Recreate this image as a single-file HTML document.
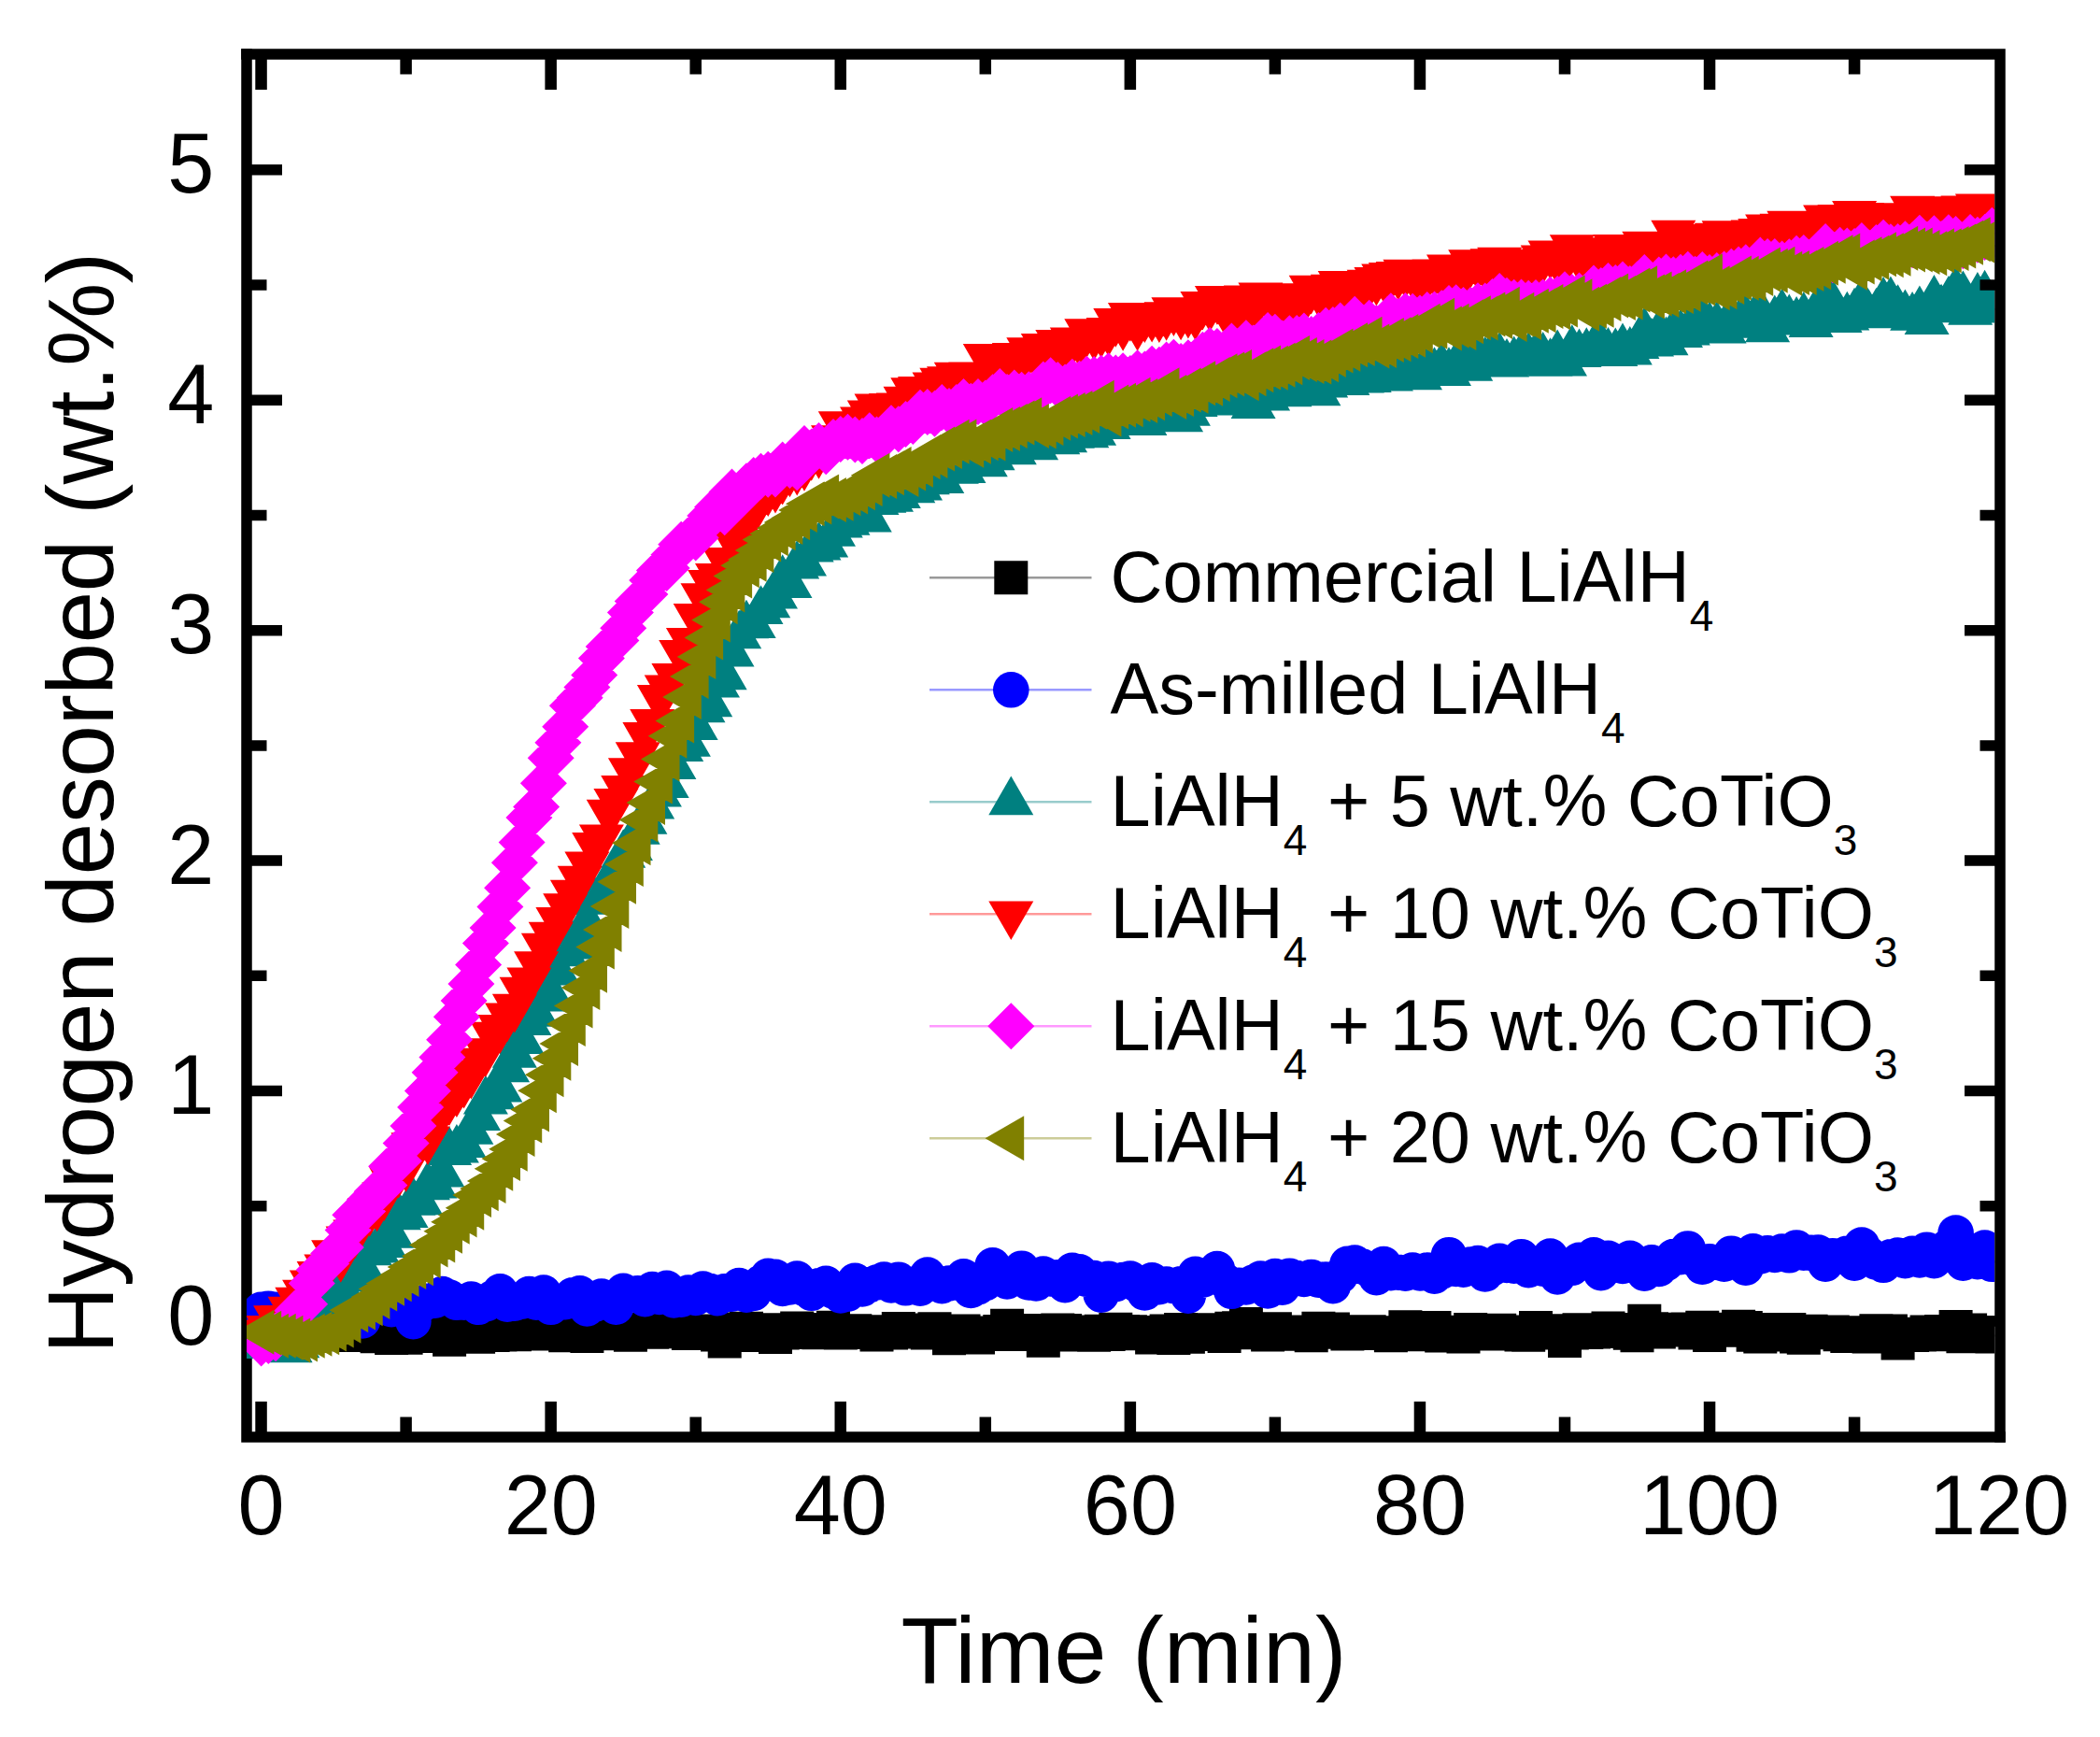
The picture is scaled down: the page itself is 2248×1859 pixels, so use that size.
<!DOCTYPE html>
<html lang="en">
<head>
<meta charset="utf-8">
<title>Hydrogen desorbed vs time</title>
<style>
html,body{margin:0;padding:0;background:#fff;}
body{width:2248px;height:1859px;overflow:hidden;}
svg{display:block;}
text{font-family:"Liberation Sans",Arial,Helvetica,sans-serif;fill:#000;}
.s{font-size:46px;}
</style>
</head>
<body>
<svg width="2248" height="1859" viewBox="0 0 2248 1859">
<rect width="2248" height="1859" fill="#fff"/>
<defs><clipPath id="c"><rect x="264.0" y="58.0" width="1871.2" height="1480.0"/></clipPath></defs>
<path d="M264.0 52.2 V1538.0 H2146.8 M264.0 1414.00 H302.0 M264.0 1290.78 H285.5 M264.0 1167.55 H302.0 M264.0 1044.33 H285.5 M264.0 921.10 H302.0 M264.0 797.88 H285.5 M264.0 674.65 H302.0 M264.0 551.43 H285.5 M264.0 428.20 H302.0 M264.0 304.98 H285.5 M264.0 181.75 H302.0" fill="none" stroke="#000" stroke-width="11.5" stroke-linejoin="miter"/>
<path d="M279.55 1538.0 V1500.0 M434.60 1538.0 V1516.5 M589.65 1538.0 V1500.0 M744.70 1538.0 V1516.5 M899.75 1538.0 V1500.0 M1054.80 1538.0 V1516.5 M1209.85 1538.0 V1500.0 M1364.90 1538.0 V1516.5 M1519.95 1538.0 V1500.0 M1675.00 1538.0 V1516.5 M1830.05 1538.0 V1500.0 M1985.10 1538.0 V1516.5" fill="none" stroke="#000" stroke-width="12.5"/>
<g clip-path="url(#c)">
<path d="M279.6 1426.3 L287.3 1426.1 L295.1 1426.6 L302.8 1427.6 L310.6 1427.2 L318.3 1428.8 L326.1 1426.1 L333.8 1422.4 L341.6 1427.8 L349.3 1428.2 L357.1 1424.9 L364.8 1425.3 L372.6 1426.0 L380.3 1429.1 L388.1 1426.4 L395.8 1424.3 L403.6 1430.3 L411.3 1427.7 L419.1 1431.9 L426.8 1430.1 L434.6 1431.8 L442.4 1427.0 L450.1 1430.1 L457.9 1425.5 L465.6 1425.8 L473.4 1426.8 L481.1 1433.7 L488.9 1427.8 L496.6 1426.3 L504.4 1425.8 L512.1 1430.7 L519.9 1427.5 L527.6 1429.0 L535.4 1428.4 L543.1 1422.8 L550.9 1428.3 L558.6 1426.0 L566.4 1423.2 L574.1 1427.5 L581.9 1426.1 L589.7 1425.4 L597.4 1425.5 L605.2 1429.2 L612.9 1425.3 L620.7 1421.5 L628.4 1430.1 L636.2 1422.9 L643.9 1425.0 L651.7 1427.3 L659.4 1419.4 L667.2 1423.0 L674.9 1428.8 L682.7 1425.0 L690.4 1423.5 L698.2 1425.7 L705.9 1423.1 L713.7 1425.3 L721.4 1423.1 L729.2 1420.8 L736.9 1427.1 L744.7 1424.5 L752.5 1426.5 L760.2 1424.7 L768.0 1428.6 L775.7 1435.4 L783.5 1425.7 L791.2 1422.4 L799.0 1421.7 L806.7 1429.0 L814.5 1427.5 L822.2 1423.2 L830.0 1431.0 L837.7 1426.5 L845.5 1425.4 L853.2 1421.4 L861.0 1423.1 L868.7 1426.1 L876.5 1426.3 L884.2 1425.9 L892.0 1420.7 L899.8 1426.5 L907.5 1426.1 L915.3 1424.2 L923.0 1425.6 L930.8 1425.8 L938.5 1428.6 L946.3 1425.3 L954.0 1426.6 L961.8 1421.9 L969.5 1423.4 L977.3 1425.4 L985.0 1423.4 L992.8 1426.4 L1000.5 1422.3 L1008.3 1425.4 L1016.0 1432.3 L1023.8 1429.2 L1031.5 1424.4 L1039.3 1430.4 L1047.0 1431.5 L1054.8 1426.4 L1062.6 1428.1 L1070.3 1425.0 L1078.1 1418.8 L1085.8 1428.0 L1093.6 1427.4 L1101.3 1424.9 L1109.1 1424.1 L1116.8 1434.7 L1124.6 1426.1 L1132.3 1423.5 L1140.1 1424.0 L1147.8 1428.6 L1155.6 1425.8 L1163.3 1425.5 L1171.1 1428.7 L1178.8 1424.8 L1186.6 1428.1 L1194.3 1422.7 L1202.1 1425.0 L1209.9 1425.3 L1217.6 1427.3 L1225.4 1425.9 L1233.1 1431.5 L1240.9 1428.9 L1248.6 1424.5 L1256.4 1431.9 L1264.1 1423.1 L1271.9 1430.7 L1279.6 1423.3 L1287.4 1428.0 L1295.1 1423.2 L1302.9 1425.1 L1310.6 1430.1 L1318.4 1421.8 L1326.1 1421.2 L1333.9 1417.1 L1341.6 1426.3 L1349.4 1425.9 L1357.1 1428.4 L1364.9 1422.2 L1372.7 1427.0 L1380.4 1425.6 L1388.2 1427.8 L1395.9 1427.3 L1403.7 1429.2 L1411.4 1421.7 L1419.2 1425.8 L1426.9 1422.5 L1434.7 1425.3 L1442.4 1427.4 L1450.2 1426.3 L1457.9 1427.0 L1465.7 1425.3 L1473.4 1426.4 L1481.2 1426.2 L1488.9 1429.3 L1496.7 1427.6 L1504.4 1420.3 L1512.2 1427.2 L1520.0 1428.3 L1527.7 1424.2 L1535.5 1421.0 L1543.2 1429.5 L1551.0 1425.8 L1558.7 1427.0 L1566.5 1430.4 L1574.2 1423.0 L1582.0 1425.2 L1589.7 1424.9 L1597.5 1427.4 L1605.2 1423.8 L1613.0 1426.7 L1620.7 1425.5 L1628.5 1428.4 L1636.2 1428.7 L1644.0 1421.1 L1651.7 1426.6 L1659.5 1424.2 L1667.2 1425.2 L1675.0 1435.0 L1682.8 1426.6 L1690.5 1423.2 L1698.3 1426.0 L1706.0 1425.5 L1713.8 1425.0 L1721.5 1421.6 L1729.3 1423.1 L1737.0 1424.0 L1744.8 1426.8 L1752.5 1429.2 L1760.3 1413.7 L1768.0 1422.3 L1775.8 1425.6 L1783.5 1423.6 L1791.3 1422.9 L1799.0 1422.7 L1806.8 1422.5 L1814.5 1426.6 L1822.3 1420.8 L1830.0 1428.9 L1837.8 1422.7 L1845.6 1423.8 L1853.3 1422.7 L1861.1 1419.8 L1868.8 1421.0 L1876.6 1428.7 L1884.3 1430.4 L1892.1 1423.0 L1899.8 1428.4 L1907.6 1425.5 L1915.3 1423.0 L1923.1 1430.4 L1930.8 1431.8 L1938.6 1424.8 L1946.3 1425.4 L1954.1 1426.3 L1961.8 1425.5 L1969.6 1428.2 L1977.3 1430.1 L1985.1 1426.2 L1992.9 1428.6 L2000.6 1430.6 L2008.4 1424.3 L2016.1 1426.0 L2023.9 1424.6 L2031.6 1437.4 L2039.4 1427.8 L2047.1 1428.9 L2054.9 1428.6 L2062.6 1425.4 L2070.4 1428.3 L2078.1 1425.0 L2085.9 1425.1 L2093.6 1420.1 L2101.4 1430.3 L2109.1 1423.6 L2116.9 1426.5 L2124.6 1426.3 L2132.4 1430.6 L2140.2 1427.7" fill="none" stroke="#000000" stroke-width="2"/>
<path d="M261.6 1408.3 h36 v36 h-36 zM269.3 1408.1 h36 v36 h-36 zM277.1 1408.6 h36 v36 h-36 zM284.8 1409.6 h36 v36 h-36 zM292.6 1409.2 h36 v36 h-36 zM300.3 1410.8 h36 v36 h-36 zM308.1 1408.1 h36 v36 h-36 zM315.8 1404.4 h36 v36 h-36 zM323.6 1409.8 h36 v36 h-36 zM331.3 1410.2 h36 v36 h-36 zM339.1 1406.9 h36 v36 h-36 zM346.8 1407.3 h36 v36 h-36 zM354.6 1408.0 h36 v36 h-36 zM362.3 1411.1 h36 v36 h-36 zM370.1 1408.4 h36 v36 h-36 zM377.8 1406.3 h36 v36 h-36 zM385.6 1412.3 h36 v36 h-36 zM393.3 1409.7 h36 v36 h-36 zM401.1 1413.9 h36 v36 h-36 zM408.8 1412.1 h36 v36 h-36 zM416.6 1413.8 h36 v36 h-36 zM424.4 1409.0 h36 v36 h-36 zM432.1 1412.1 h36 v36 h-36 zM439.9 1407.5 h36 v36 h-36 zM447.6 1407.8 h36 v36 h-36 zM455.4 1408.8 h36 v36 h-36 zM463.1 1415.7 h36 v36 h-36 zM470.9 1409.8 h36 v36 h-36 zM478.6 1408.3 h36 v36 h-36 zM486.4 1407.8 h36 v36 h-36 zM494.1 1412.7 h36 v36 h-36 zM501.9 1409.5 h36 v36 h-36 zM509.6 1411.0 h36 v36 h-36 zM517.4 1410.4 h36 v36 h-36 zM525.1 1404.8 h36 v36 h-36 zM532.9 1410.3 h36 v36 h-36 zM540.6 1408.0 h36 v36 h-36 zM548.4 1405.2 h36 v36 h-36 zM556.1 1409.5 h36 v36 h-36 zM563.9 1408.1 h36 v36 h-36 zM571.7 1407.4 h36 v36 h-36 zM579.4 1407.5 h36 v36 h-36 zM587.2 1411.2 h36 v36 h-36 zM594.9 1407.3 h36 v36 h-36 zM602.7 1403.5 h36 v36 h-36 zM610.4 1412.1 h36 v36 h-36 zM618.2 1404.9 h36 v36 h-36 zM625.9 1407.0 h36 v36 h-36 zM633.7 1409.3 h36 v36 h-36 zM641.4 1401.4 h36 v36 h-36 zM649.2 1405.0 h36 v36 h-36 zM656.9 1410.8 h36 v36 h-36 zM664.7 1407.0 h36 v36 h-36 zM672.4 1405.5 h36 v36 h-36 zM680.2 1407.7 h36 v36 h-36 zM687.9 1405.1 h36 v36 h-36 zM695.7 1407.3 h36 v36 h-36 zM703.4 1405.1 h36 v36 h-36 zM711.2 1402.8 h36 v36 h-36 zM718.9 1409.1 h36 v36 h-36 zM726.7 1406.5 h36 v36 h-36 zM734.5 1408.5 h36 v36 h-36 zM742.2 1406.7 h36 v36 h-36 zM750.0 1410.6 h36 v36 h-36 zM757.7 1417.4 h36 v36 h-36 zM765.5 1407.7 h36 v36 h-36 zM773.2 1404.4 h36 v36 h-36 zM781.0 1403.7 h36 v36 h-36 zM788.7 1411.0 h36 v36 h-36 zM796.5 1409.5 h36 v36 h-36 zM804.2 1405.2 h36 v36 h-36 zM812.0 1413.0 h36 v36 h-36 zM819.7 1408.5 h36 v36 h-36 zM827.5 1407.4 h36 v36 h-36 zM835.2 1403.4 h36 v36 h-36 zM843.0 1405.1 h36 v36 h-36 zM850.7 1408.1 h36 v36 h-36 zM858.5 1408.3 h36 v36 h-36 zM866.2 1407.9 h36 v36 h-36 zM874.0 1402.7 h36 v36 h-36 zM881.8 1408.5 h36 v36 h-36 zM889.5 1408.1 h36 v36 h-36 zM897.3 1406.2 h36 v36 h-36 zM905.0 1407.6 h36 v36 h-36 zM912.8 1407.8 h36 v36 h-36 zM920.5 1410.6 h36 v36 h-36 zM928.3 1407.3 h36 v36 h-36 zM936.0 1408.6 h36 v36 h-36 zM943.8 1403.9 h36 v36 h-36 zM951.5 1405.4 h36 v36 h-36 zM959.3 1407.4 h36 v36 h-36 zM967.0 1405.4 h36 v36 h-36 zM974.8 1408.4 h36 v36 h-36 zM982.5 1404.3 h36 v36 h-36 zM990.3 1407.4 h36 v36 h-36 zM998.0 1414.3 h36 v36 h-36 zM1005.8 1411.2 h36 v36 h-36 zM1013.5 1406.4 h36 v36 h-36 zM1021.3 1412.4 h36 v36 h-36 zM1029.0 1413.5 h36 v36 h-36 zM1036.8 1408.4 h36 v36 h-36 zM1044.6 1410.1 h36 v36 h-36 zM1052.3 1407.0 h36 v36 h-36 zM1060.1 1400.8 h36 v36 h-36 zM1067.8 1410.0 h36 v36 h-36 zM1075.6 1409.4 h36 v36 h-36 zM1083.3 1406.9 h36 v36 h-36 zM1091.1 1406.1 h36 v36 h-36 zM1098.8 1416.7 h36 v36 h-36 zM1106.6 1408.1 h36 v36 h-36 zM1114.3 1405.5 h36 v36 h-36 zM1122.1 1406.0 h36 v36 h-36 zM1129.8 1410.6 h36 v36 h-36 zM1137.6 1407.8 h36 v36 h-36 zM1145.3 1407.5 h36 v36 h-36 zM1153.1 1410.7 h36 v36 h-36 zM1160.8 1406.8 h36 v36 h-36 zM1168.6 1410.1 h36 v36 h-36 zM1176.3 1404.7 h36 v36 h-36 zM1184.1 1407.0 h36 v36 h-36 zM1191.9 1407.3 h36 v36 h-36 zM1199.6 1409.3 h36 v36 h-36 zM1207.4 1407.9 h36 v36 h-36 zM1215.1 1413.5 h36 v36 h-36 zM1222.9 1410.9 h36 v36 h-36 zM1230.6 1406.5 h36 v36 h-36 zM1238.4 1413.9 h36 v36 h-36 zM1246.1 1405.1 h36 v36 h-36 zM1253.9 1412.7 h36 v36 h-36 zM1261.6 1405.3 h36 v36 h-36 zM1269.4 1410.0 h36 v36 h-36 zM1277.1 1405.2 h36 v36 h-36 zM1284.9 1407.1 h36 v36 h-36 zM1292.6 1412.1 h36 v36 h-36 zM1300.4 1403.8 h36 v36 h-36 zM1308.1 1403.2 h36 v36 h-36 zM1315.9 1399.1 h36 v36 h-36 zM1323.6 1408.3 h36 v36 h-36 zM1331.4 1407.9 h36 v36 h-36 zM1339.1 1410.4 h36 v36 h-36 zM1346.9 1404.2 h36 v36 h-36 zM1354.7 1409.0 h36 v36 h-36 zM1362.4 1407.6 h36 v36 h-36 zM1370.2 1409.8 h36 v36 h-36 zM1377.9 1409.3 h36 v36 h-36 zM1385.7 1411.2 h36 v36 h-36 zM1393.4 1403.7 h36 v36 h-36 zM1401.2 1407.8 h36 v36 h-36 zM1408.9 1404.5 h36 v36 h-36 zM1416.7 1407.3 h36 v36 h-36 zM1424.4 1409.4 h36 v36 h-36 zM1432.2 1408.3 h36 v36 h-36 zM1439.9 1409.0 h36 v36 h-36 zM1447.7 1407.3 h36 v36 h-36 zM1455.4 1408.4 h36 v36 h-36 zM1463.2 1408.2 h36 v36 h-36 zM1470.9 1411.3 h36 v36 h-36 zM1478.7 1409.6 h36 v36 h-36 zM1486.4 1402.3 h36 v36 h-36 zM1494.2 1409.2 h36 v36 h-36 zM1502.0 1410.3 h36 v36 h-36 zM1509.7 1406.2 h36 v36 h-36 zM1517.5 1403.0 h36 v36 h-36 zM1525.2 1411.5 h36 v36 h-36 zM1533.0 1407.8 h36 v36 h-36 zM1540.7 1409.0 h36 v36 h-36 zM1548.5 1412.4 h36 v36 h-36 zM1556.2 1405.0 h36 v36 h-36 zM1564.0 1407.2 h36 v36 h-36 zM1571.7 1406.9 h36 v36 h-36 zM1579.5 1409.4 h36 v36 h-36 zM1587.2 1405.8 h36 v36 h-36 zM1595.0 1408.7 h36 v36 h-36 zM1602.7 1407.5 h36 v36 h-36 zM1610.5 1410.4 h36 v36 h-36 zM1618.2 1410.7 h36 v36 h-36 zM1626.0 1403.1 h36 v36 h-36 zM1633.7 1408.6 h36 v36 h-36 zM1641.5 1406.2 h36 v36 h-36 zM1649.2 1407.2 h36 v36 h-36 zM1657.0 1417.0 h36 v36 h-36 zM1664.8 1408.6 h36 v36 h-36 zM1672.5 1405.2 h36 v36 h-36 zM1680.3 1408.0 h36 v36 h-36 zM1688.0 1407.5 h36 v36 h-36 zM1695.8 1407.0 h36 v36 h-36 zM1703.5 1403.6 h36 v36 h-36 zM1711.3 1405.1 h36 v36 h-36 zM1719.0 1406.0 h36 v36 h-36 zM1726.8 1408.8 h36 v36 h-36 zM1734.5 1411.2 h36 v36 h-36 zM1742.3 1395.7 h36 v36 h-36 zM1750.0 1404.3 h36 v36 h-36 zM1757.8 1407.6 h36 v36 h-36 zM1765.5 1405.6 h36 v36 h-36 zM1773.3 1404.9 h36 v36 h-36 zM1781.0 1404.7 h36 v36 h-36 zM1788.8 1404.5 h36 v36 h-36 zM1796.5 1408.6 h36 v36 h-36 zM1804.3 1402.8 h36 v36 h-36 zM1812.0 1410.9 h36 v36 h-36 zM1819.8 1404.7 h36 v36 h-36 zM1827.6 1405.8 h36 v36 h-36 zM1835.3 1404.7 h36 v36 h-36 zM1843.1 1401.8 h36 v36 h-36 zM1850.8 1403.0 h36 v36 h-36 zM1858.6 1410.7 h36 v36 h-36 zM1866.3 1412.4 h36 v36 h-36 zM1874.1 1405.0 h36 v36 h-36 zM1881.8 1410.4 h36 v36 h-36 zM1889.6 1407.5 h36 v36 h-36 zM1897.3 1405.0 h36 v36 h-36 zM1905.1 1412.4 h36 v36 h-36 zM1912.8 1413.8 h36 v36 h-36 zM1920.6 1406.8 h36 v36 h-36 zM1928.3 1407.4 h36 v36 h-36 zM1936.1 1408.3 h36 v36 h-36 zM1943.8 1407.5 h36 v36 h-36 zM1951.6 1410.2 h36 v36 h-36 zM1959.3 1412.1 h36 v36 h-36 zM1967.1 1408.2 h36 v36 h-36 zM1974.9 1410.6 h36 v36 h-36 zM1982.6 1412.6 h36 v36 h-36 zM1990.4 1406.3 h36 v36 h-36 zM1998.1 1408.0 h36 v36 h-36 zM2005.9 1406.6 h36 v36 h-36 zM2013.6 1419.4 h36 v36 h-36 zM2021.4 1409.8 h36 v36 h-36 zM2029.1 1410.9 h36 v36 h-36 zM2036.9 1410.6 h36 v36 h-36 zM2044.6 1407.4 h36 v36 h-36 zM2052.4 1410.3 h36 v36 h-36 zM2060.1 1407.0 h36 v36 h-36 zM2067.9 1407.1 h36 v36 h-36 zM2075.6 1402.1 h36 v36 h-36 zM2083.4 1412.3 h36 v36 h-36 zM2091.1 1405.6 h36 v36 h-36 zM2098.9 1408.5 h36 v36 h-36 zM2106.6 1408.3 h36 v36 h-36 zM2114.4 1412.6 h36 v36 h-36 zM2122.2 1409.7 h36 v36 h-36 z" fill="#000000"/>
<path d="M279.6 1401.8 L287.3 1400.7 L295.1 1401.7 L302.8 1403.3 L310.6 1400.5 L318.3 1407.2 L326.1 1412.1 L333.8 1397.6 L341.6 1401.4 L349.3 1398.8 L357.1 1411.3 L364.8 1402.5 L372.6 1403.6 L380.3 1404.9 L388.1 1413.4 L395.8 1400.6 L403.6 1392.3 L411.3 1395.2 L419.1 1401.2 L426.8 1397.1 L434.6 1391.9 L442.4 1414.2 L450.1 1397.2 L457.9 1392.8 L465.6 1391.7 L473.4 1385.1 L481.1 1388.6 L488.9 1393.8 L496.6 1393.7 L504.4 1390.5 L512.1 1398.8 L519.9 1395.5 L527.6 1389.2 L535.4 1382.3 L543.1 1395.6 L550.9 1394.6 L558.6 1392.7 L566.4 1385.1 L574.1 1393.6 L581.9 1383.6 L589.7 1398.8 L597.4 1393.5 L605.2 1393.1 L612.9 1386.4 L620.7 1384.3 L628.4 1400.3 L636.2 1396.0 L643.9 1387.6 L651.7 1393.5 L659.4 1398.6 L667.2 1381.8 L674.9 1384.8 L682.7 1384.4 L690.4 1390.2 L698.2 1380.1 L705.9 1387.8 L713.7 1378.9 L721.4 1391.4 L729.2 1390.6 L736.9 1383.5 L744.7 1388.9 L752.5 1379.7 L760.2 1382.0 L768.0 1389.1 L775.7 1382.3 L783.5 1384.6 L791.2 1376.1 L799.0 1385.6 L806.7 1383.9 L814.5 1372.9 L822.2 1365.9 L830.0 1366.9 L837.7 1378.9 L845.5 1377.5 L853.2 1368.6 L861.0 1378.8 L868.7 1383.8 L876.5 1376.3 L884.2 1373.8 L892.0 1381.6 L899.8 1386.4 L907.5 1384.6 L915.3 1370.8 L923.0 1379.5 L930.8 1375.2 L938.5 1372.5 L946.3 1369.6 L954.0 1375.4 L961.8 1369.7 L969.5 1378.3 L977.3 1374.6 L985.0 1378.6 L992.8 1364.6 L1000.5 1371.8 L1008.3 1376.1 L1016.0 1373.5 L1023.8 1372.5 L1031.5 1366.4 L1039.3 1381.0 L1047.0 1377.4 L1054.8 1373.1 L1062.6 1354.4 L1070.3 1364.5 L1078.1 1371.4 L1085.8 1366.2 L1093.6 1357.7 L1101.3 1372.5 L1109.1 1373.5 L1116.8 1363.6 L1124.6 1368.4 L1132.3 1367.4 L1140.1 1375.2 L1147.8 1359.8 L1155.6 1361.3 L1163.3 1368.8 L1171.1 1368.2 L1178.8 1385.7 L1186.6 1368.7 L1194.3 1374.1 L1202.1 1370.1 L1209.9 1368.5 L1217.6 1375.0 L1225.4 1383.5 L1233.1 1370.3 L1240.9 1377.2 L1248.6 1374.5 L1256.4 1376.1 L1264.1 1374.2 L1271.9 1386.6 L1279.6 1363.8 L1287.4 1369.7 L1295.1 1364.0 L1302.9 1358.2 L1310.6 1370.4 L1318.4 1381.8 L1326.1 1375.7 L1333.9 1377.4 L1341.6 1372.6 L1349.4 1368.5 L1357.1 1381.5 L1364.9 1366.1 L1372.7 1377.6 L1380.4 1365.7 L1388.2 1368.0 L1395.9 1368.9 L1403.7 1367.0 L1411.4 1369.6 L1419.2 1369.7 L1426.9 1376.2 L1434.7 1365.3 L1442.4 1352.9 L1450.2 1351.6 L1457.9 1355.4 L1465.7 1358.9 L1473.4 1367.2 L1481.2 1353.1 L1488.9 1362.2 L1496.7 1361.7 L1504.4 1362.6 L1512.2 1359.5 L1520.0 1362.4 L1527.7 1359.6 L1535.5 1365.6 L1543.2 1360.6 L1551.0 1343.2 L1558.7 1357.9 L1566.5 1358.7 L1574.2 1353.5 L1582.0 1352.0 L1589.7 1363.5 L1597.5 1357.4 L1605.2 1349.9 L1613.0 1353.9 L1620.7 1354.6 L1628.5 1345.2 L1636.2 1359.2 L1644.0 1354.1 L1651.7 1357.7 L1659.5 1344.6 L1667.2 1366.4 L1675.0 1357.9 L1682.8 1356.8 L1690.5 1348.8 L1698.3 1348.9 L1706.0 1343.4 L1713.8 1362.1 L1721.5 1346.8 L1729.3 1353.1 L1737.0 1355.0 L1744.8 1346.8 L1752.5 1355.7 L1760.3 1362.7 L1768.0 1351.3 L1775.8 1358.0 L1783.5 1352.1 L1791.3 1345.1 L1799.0 1345.1 L1806.8 1336.5 L1814.5 1347.5 L1822.3 1355.7 L1830.0 1350.3 L1837.8 1351.0 L1845.6 1352.6 L1853.3 1341.7 L1861.1 1348.4 L1868.8 1356.7 L1876.6 1339.4 L1884.3 1344.5 L1892.1 1341.4 L1899.8 1343.0 L1907.6 1339.5 L1915.3 1343.3 L1923.1 1335.5 L1930.8 1340.7 L1938.6 1340.8 L1946.3 1340.6 L1954.1 1352.6 L1961.8 1344.2 L1969.6 1344.8 L1977.3 1341.7 L1985.1 1351.7 L1992.9 1332.5 L2000.6 1342.3 L2008.4 1350.6 L2016.1 1353.8 L2023.9 1345.3 L2031.6 1343.6 L2039.4 1349.2 L2047.1 1341.9 L2054.9 1348.4 L2062.6 1337.7 L2070.4 1349.1 L2078.1 1343.0 L2085.9 1333.8 L2093.6 1319.5 L2101.4 1351.6 L2109.1 1346.7 L2116.9 1350.1 L2124.6 1335.5 L2132.4 1352.8 L2140.2 1346.9" fill="none" stroke="#0000ff" stroke-width="2"/>
<path d="M260.2 1401.8 a19.3 19.3 0 1 0 38.6 0 a19.3 19.3 0 1 0 -38.6 0zM268.0 1400.7 a19.3 19.3 0 1 0 38.6 0 a19.3 19.3 0 1 0 -38.6 0zM275.8 1401.7 a19.3 19.3 0 1 0 38.6 0 a19.3 19.3 0 1 0 -38.6 0zM283.5 1403.3 a19.3 19.3 0 1 0 38.6 0 a19.3 19.3 0 1 0 -38.6 0zM291.3 1400.5 a19.3 19.3 0 1 0 38.6 0 a19.3 19.3 0 1 0 -38.6 0zM299.0 1407.2 a19.3 19.3 0 1 0 38.6 0 a19.3 19.3 0 1 0 -38.6 0zM306.8 1412.1 a19.3 19.3 0 1 0 38.6 0 a19.3 19.3 0 1 0 -38.6 0zM314.5 1397.6 a19.3 19.3 0 1 0 38.6 0 a19.3 19.3 0 1 0 -38.6 0zM322.3 1401.4 a19.3 19.3 0 1 0 38.6 0 a19.3 19.3 0 1 0 -38.6 0zM330.0 1398.8 a19.3 19.3 0 1 0 38.6 0 a19.3 19.3 0 1 0 -38.6 0zM337.8 1411.3 a19.3 19.3 0 1 0 38.6 0 a19.3 19.3 0 1 0 -38.6 0zM345.5 1402.5 a19.3 19.3 0 1 0 38.6 0 a19.3 19.3 0 1 0 -38.6 0zM353.3 1403.6 a19.3 19.3 0 1 0 38.6 0 a19.3 19.3 0 1 0 -38.6 0zM361.0 1404.9 a19.3 19.3 0 1 0 38.6 0 a19.3 19.3 0 1 0 -38.6 0zM368.8 1413.4 a19.3 19.3 0 1 0 38.6 0 a19.3 19.3 0 1 0 -38.6 0zM376.5 1400.6 a19.3 19.3 0 1 0 38.6 0 a19.3 19.3 0 1 0 -38.6 0zM384.3 1392.3 a19.3 19.3 0 1 0 38.6 0 a19.3 19.3 0 1 0 -38.6 0zM392.0 1395.2 a19.3 19.3 0 1 0 38.6 0 a19.3 19.3 0 1 0 -38.6 0zM399.8 1401.2 a19.3 19.3 0 1 0 38.6 0 a19.3 19.3 0 1 0 -38.6 0zM407.5 1397.1 a19.3 19.3 0 1 0 38.6 0 a19.3 19.3 0 1 0 -38.6 0zM415.3 1391.9 a19.3 19.3 0 1 0 38.6 0 a19.3 19.3 0 1 0 -38.6 0zM423.1 1414.2 a19.3 19.3 0 1 0 38.6 0 a19.3 19.3 0 1 0 -38.6 0zM430.8 1397.2 a19.3 19.3 0 1 0 38.6 0 a19.3 19.3 0 1 0 -38.6 0zM438.6 1392.8 a19.3 19.3 0 1 0 38.6 0 a19.3 19.3 0 1 0 -38.6 0zM446.3 1391.7 a19.3 19.3 0 1 0 38.6 0 a19.3 19.3 0 1 0 -38.6 0zM454.1 1385.1 a19.3 19.3 0 1 0 38.6 0 a19.3 19.3 0 1 0 -38.6 0zM461.8 1388.6 a19.3 19.3 0 1 0 38.6 0 a19.3 19.3 0 1 0 -38.6 0zM469.6 1393.8 a19.3 19.3 0 1 0 38.6 0 a19.3 19.3 0 1 0 -38.6 0zM477.3 1393.7 a19.3 19.3 0 1 0 38.6 0 a19.3 19.3 0 1 0 -38.6 0zM485.1 1390.5 a19.3 19.3 0 1 0 38.6 0 a19.3 19.3 0 1 0 -38.6 0zM492.8 1398.8 a19.3 19.3 0 1 0 38.6 0 a19.3 19.3 0 1 0 -38.6 0zM500.6 1395.5 a19.3 19.3 0 1 0 38.6 0 a19.3 19.3 0 1 0 -38.6 0zM508.3 1389.2 a19.3 19.3 0 1 0 38.6 0 a19.3 19.3 0 1 0 -38.6 0zM516.1 1382.3 a19.3 19.3 0 1 0 38.6 0 a19.3 19.3 0 1 0 -38.6 0zM523.8 1395.6 a19.3 19.3 0 1 0 38.6 0 a19.3 19.3 0 1 0 -38.6 0zM531.6 1394.6 a19.3 19.3 0 1 0 38.6 0 a19.3 19.3 0 1 0 -38.6 0zM539.3 1392.7 a19.3 19.3 0 1 0 38.6 0 a19.3 19.3 0 1 0 -38.6 0zM547.1 1385.1 a19.3 19.3 0 1 0 38.6 0 a19.3 19.3 0 1 0 -38.6 0zM554.8 1393.6 a19.3 19.3 0 1 0 38.6 0 a19.3 19.3 0 1 0 -38.6 0zM562.6 1383.6 a19.3 19.3 0 1 0 38.6 0 a19.3 19.3 0 1 0 -38.6 0zM570.4 1398.8 a19.3 19.3 0 1 0 38.6 0 a19.3 19.3 0 1 0 -38.6 0zM578.1 1393.5 a19.3 19.3 0 1 0 38.6 0 a19.3 19.3 0 1 0 -38.6 0zM585.9 1393.1 a19.3 19.3 0 1 0 38.6 0 a19.3 19.3 0 1 0 -38.6 0zM593.6 1386.4 a19.3 19.3 0 1 0 38.6 0 a19.3 19.3 0 1 0 -38.6 0zM601.4 1384.3 a19.3 19.3 0 1 0 38.6 0 a19.3 19.3 0 1 0 -38.6 0zM609.1 1400.3 a19.3 19.3 0 1 0 38.6 0 a19.3 19.3 0 1 0 -38.6 0zM616.9 1396.0 a19.3 19.3 0 1 0 38.6 0 a19.3 19.3 0 1 0 -38.6 0zM624.6 1387.6 a19.3 19.3 0 1 0 38.6 0 a19.3 19.3 0 1 0 -38.6 0zM632.4 1393.5 a19.3 19.3 0 1 0 38.6 0 a19.3 19.3 0 1 0 -38.6 0zM640.1 1398.6 a19.3 19.3 0 1 0 38.6 0 a19.3 19.3 0 1 0 -38.6 0zM647.9 1381.8 a19.3 19.3 0 1 0 38.6 0 a19.3 19.3 0 1 0 -38.6 0zM655.6 1384.8 a19.3 19.3 0 1 0 38.6 0 a19.3 19.3 0 1 0 -38.6 0zM663.4 1384.4 a19.3 19.3 0 1 0 38.6 0 a19.3 19.3 0 1 0 -38.6 0zM671.1 1390.2 a19.3 19.3 0 1 0 38.6 0 a19.3 19.3 0 1 0 -38.6 0zM678.9 1380.1 a19.3 19.3 0 1 0 38.6 0 a19.3 19.3 0 1 0 -38.6 0zM686.6 1387.8 a19.3 19.3 0 1 0 38.6 0 a19.3 19.3 0 1 0 -38.6 0zM694.4 1378.9 a19.3 19.3 0 1 0 38.6 0 a19.3 19.3 0 1 0 -38.6 0zM702.1 1391.4 a19.3 19.3 0 1 0 38.6 0 a19.3 19.3 0 1 0 -38.6 0zM709.9 1390.6 a19.3 19.3 0 1 0 38.6 0 a19.3 19.3 0 1 0 -38.6 0zM717.6 1383.5 a19.3 19.3 0 1 0 38.6 0 a19.3 19.3 0 1 0 -38.6 0zM725.4 1388.9 a19.3 19.3 0 1 0 38.6 0 a19.3 19.3 0 1 0 -38.6 0zM733.2 1379.7 a19.3 19.3 0 1 0 38.6 0 a19.3 19.3 0 1 0 -38.6 0zM740.9 1382.0 a19.3 19.3 0 1 0 38.6 0 a19.3 19.3 0 1 0 -38.6 0zM748.7 1389.1 a19.3 19.3 0 1 0 38.6 0 a19.3 19.3 0 1 0 -38.6 0zM756.4 1382.3 a19.3 19.3 0 1 0 38.6 0 a19.3 19.3 0 1 0 -38.6 0zM764.2 1384.6 a19.3 19.3 0 1 0 38.6 0 a19.3 19.3 0 1 0 -38.6 0zM771.9 1376.1 a19.3 19.3 0 1 0 38.6 0 a19.3 19.3 0 1 0 -38.6 0zM779.7 1385.6 a19.3 19.3 0 1 0 38.6 0 a19.3 19.3 0 1 0 -38.6 0zM787.4 1383.9 a19.3 19.3 0 1 0 38.6 0 a19.3 19.3 0 1 0 -38.6 0zM795.2 1372.9 a19.3 19.3 0 1 0 38.6 0 a19.3 19.3 0 1 0 -38.6 0zM802.9 1365.9 a19.3 19.3 0 1 0 38.6 0 a19.3 19.3 0 1 0 -38.6 0zM810.7 1366.9 a19.3 19.3 0 1 0 38.6 0 a19.3 19.3 0 1 0 -38.6 0zM818.4 1378.9 a19.3 19.3 0 1 0 38.6 0 a19.3 19.3 0 1 0 -38.6 0zM826.2 1377.5 a19.3 19.3 0 1 0 38.6 0 a19.3 19.3 0 1 0 -38.6 0zM833.9 1368.6 a19.3 19.3 0 1 0 38.6 0 a19.3 19.3 0 1 0 -38.6 0zM841.7 1378.8 a19.3 19.3 0 1 0 38.6 0 a19.3 19.3 0 1 0 -38.6 0zM849.4 1383.8 a19.3 19.3 0 1 0 38.6 0 a19.3 19.3 0 1 0 -38.6 0zM857.2 1376.3 a19.3 19.3 0 1 0 38.6 0 a19.3 19.3 0 1 0 -38.6 0zM864.9 1373.8 a19.3 19.3 0 1 0 38.6 0 a19.3 19.3 0 1 0 -38.6 0zM872.7 1381.6 a19.3 19.3 0 1 0 38.6 0 a19.3 19.3 0 1 0 -38.6 0zM880.5 1386.4 a19.3 19.3 0 1 0 38.6 0 a19.3 19.3 0 1 0 -38.6 0zM888.2 1384.6 a19.3 19.3 0 1 0 38.6 0 a19.3 19.3 0 1 0 -38.6 0zM896.0 1370.8 a19.3 19.3 0 1 0 38.6 0 a19.3 19.3 0 1 0 -38.6 0zM903.7 1379.5 a19.3 19.3 0 1 0 38.6 0 a19.3 19.3 0 1 0 -38.6 0zM911.5 1375.2 a19.3 19.3 0 1 0 38.6 0 a19.3 19.3 0 1 0 -38.6 0zM919.2 1372.5 a19.3 19.3 0 1 0 38.6 0 a19.3 19.3 0 1 0 -38.6 0zM927.0 1369.6 a19.3 19.3 0 1 0 38.6 0 a19.3 19.3 0 1 0 -38.6 0zM934.7 1375.4 a19.3 19.3 0 1 0 38.6 0 a19.3 19.3 0 1 0 -38.6 0zM942.5 1369.7 a19.3 19.3 0 1 0 38.6 0 a19.3 19.3 0 1 0 -38.6 0zM950.2 1378.3 a19.3 19.3 0 1 0 38.6 0 a19.3 19.3 0 1 0 -38.6 0zM958.0 1374.6 a19.3 19.3 0 1 0 38.6 0 a19.3 19.3 0 1 0 -38.6 0zM965.7 1378.6 a19.3 19.3 0 1 0 38.6 0 a19.3 19.3 0 1 0 -38.6 0zM973.5 1364.6 a19.3 19.3 0 1 0 38.6 0 a19.3 19.3 0 1 0 -38.6 0zM981.2 1371.8 a19.3 19.3 0 1 0 38.6 0 a19.3 19.3 0 1 0 -38.6 0zM989.0 1376.1 a19.3 19.3 0 1 0 38.6 0 a19.3 19.3 0 1 0 -38.6 0zM996.7 1373.5 a19.3 19.3 0 1 0 38.6 0 a19.3 19.3 0 1 0 -38.6 0zM1004.5 1372.5 a19.3 19.3 0 1 0 38.6 0 a19.3 19.3 0 1 0 -38.6 0zM1012.2 1366.4 a19.3 19.3 0 1 0 38.6 0 a19.3 19.3 0 1 0 -38.6 0zM1020.0 1381.0 a19.3 19.3 0 1 0 38.6 0 a19.3 19.3 0 1 0 -38.6 0zM1027.7 1377.4 a19.3 19.3 0 1 0 38.6 0 a19.3 19.3 0 1 0 -38.6 0zM1035.5 1373.1 a19.3 19.3 0 1 0 38.6 0 a19.3 19.3 0 1 0 -38.6 0zM1043.3 1354.4 a19.3 19.3 0 1 0 38.6 0 a19.3 19.3 0 1 0 -38.6 0zM1051.0 1364.5 a19.3 19.3 0 1 0 38.6 0 a19.3 19.3 0 1 0 -38.6 0zM1058.8 1371.4 a19.3 19.3 0 1 0 38.6 0 a19.3 19.3 0 1 0 -38.6 0zM1066.5 1366.2 a19.3 19.3 0 1 0 38.6 0 a19.3 19.3 0 1 0 -38.6 0zM1074.3 1357.7 a19.3 19.3 0 1 0 38.6 0 a19.3 19.3 0 1 0 -38.6 0zM1082.0 1372.5 a19.3 19.3 0 1 0 38.6 0 a19.3 19.3 0 1 0 -38.6 0zM1089.8 1373.5 a19.3 19.3 0 1 0 38.6 0 a19.3 19.3 0 1 0 -38.6 0zM1097.5 1363.6 a19.3 19.3 0 1 0 38.6 0 a19.3 19.3 0 1 0 -38.6 0zM1105.3 1368.4 a19.3 19.3 0 1 0 38.6 0 a19.3 19.3 0 1 0 -38.6 0zM1113.0 1367.4 a19.3 19.3 0 1 0 38.6 0 a19.3 19.3 0 1 0 -38.6 0zM1120.8 1375.2 a19.3 19.3 0 1 0 38.6 0 a19.3 19.3 0 1 0 -38.6 0zM1128.5 1359.8 a19.3 19.3 0 1 0 38.6 0 a19.3 19.3 0 1 0 -38.6 0zM1136.3 1361.3 a19.3 19.3 0 1 0 38.6 0 a19.3 19.3 0 1 0 -38.6 0zM1144.0 1368.8 a19.3 19.3 0 1 0 38.6 0 a19.3 19.3 0 1 0 -38.6 0zM1151.8 1368.2 a19.3 19.3 0 1 0 38.6 0 a19.3 19.3 0 1 0 -38.6 0zM1159.5 1385.7 a19.3 19.3 0 1 0 38.6 0 a19.3 19.3 0 1 0 -38.6 0zM1167.3 1368.7 a19.3 19.3 0 1 0 38.6 0 a19.3 19.3 0 1 0 -38.6 0zM1175.0 1374.1 a19.3 19.3 0 1 0 38.6 0 a19.3 19.3 0 1 0 -38.6 0zM1182.8 1370.1 a19.3 19.3 0 1 0 38.6 0 a19.3 19.3 0 1 0 -38.6 0zM1190.6 1368.5 a19.3 19.3 0 1 0 38.6 0 a19.3 19.3 0 1 0 -38.6 0zM1198.3 1375.0 a19.3 19.3 0 1 0 38.6 0 a19.3 19.3 0 1 0 -38.6 0zM1206.1 1383.5 a19.3 19.3 0 1 0 38.6 0 a19.3 19.3 0 1 0 -38.6 0zM1213.8 1370.3 a19.3 19.3 0 1 0 38.6 0 a19.3 19.3 0 1 0 -38.6 0zM1221.6 1377.2 a19.3 19.3 0 1 0 38.6 0 a19.3 19.3 0 1 0 -38.6 0zM1229.3 1374.5 a19.3 19.3 0 1 0 38.6 0 a19.3 19.3 0 1 0 -38.6 0zM1237.1 1376.1 a19.3 19.3 0 1 0 38.6 0 a19.3 19.3 0 1 0 -38.6 0zM1244.8 1374.2 a19.3 19.3 0 1 0 38.6 0 a19.3 19.3 0 1 0 -38.6 0zM1252.6 1386.6 a19.3 19.3 0 1 0 38.6 0 a19.3 19.3 0 1 0 -38.6 0zM1260.3 1363.8 a19.3 19.3 0 1 0 38.6 0 a19.3 19.3 0 1 0 -38.6 0zM1268.1 1369.7 a19.3 19.3 0 1 0 38.6 0 a19.3 19.3 0 1 0 -38.6 0zM1275.8 1364.0 a19.3 19.3 0 1 0 38.6 0 a19.3 19.3 0 1 0 -38.6 0zM1283.6 1358.2 a19.3 19.3 0 1 0 38.6 0 a19.3 19.3 0 1 0 -38.6 0zM1291.3 1370.4 a19.3 19.3 0 1 0 38.6 0 a19.3 19.3 0 1 0 -38.6 0zM1299.1 1381.8 a19.3 19.3 0 1 0 38.6 0 a19.3 19.3 0 1 0 -38.6 0zM1306.8 1375.7 a19.3 19.3 0 1 0 38.6 0 a19.3 19.3 0 1 0 -38.6 0zM1314.6 1377.4 a19.3 19.3 0 1 0 38.6 0 a19.3 19.3 0 1 0 -38.6 0zM1322.3 1372.6 a19.3 19.3 0 1 0 38.6 0 a19.3 19.3 0 1 0 -38.6 0zM1330.1 1368.5 a19.3 19.3 0 1 0 38.6 0 a19.3 19.3 0 1 0 -38.6 0zM1337.8 1381.5 a19.3 19.3 0 1 0 38.6 0 a19.3 19.3 0 1 0 -38.6 0zM1345.6 1366.1 a19.3 19.3 0 1 0 38.6 0 a19.3 19.3 0 1 0 -38.6 0zM1353.4 1377.6 a19.3 19.3 0 1 0 38.6 0 a19.3 19.3 0 1 0 -38.6 0zM1361.1 1365.7 a19.3 19.3 0 1 0 38.6 0 a19.3 19.3 0 1 0 -38.6 0zM1368.9 1368.0 a19.3 19.3 0 1 0 38.6 0 a19.3 19.3 0 1 0 -38.6 0zM1376.6 1368.9 a19.3 19.3 0 1 0 38.6 0 a19.3 19.3 0 1 0 -38.6 0zM1384.4 1367.0 a19.3 19.3 0 1 0 38.6 0 a19.3 19.3 0 1 0 -38.6 0zM1392.1 1369.6 a19.3 19.3 0 1 0 38.6 0 a19.3 19.3 0 1 0 -38.6 0zM1399.9 1369.7 a19.3 19.3 0 1 0 38.6 0 a19.3 19.3 0 1 0 -38.6 0zM1407.6 1376.2 a19.3 19.3 0 1 0 38.6 0 a19.3 19.3 0 1 0 -38.6 0zM1415.4 1365.3 a19.3 19.3 0 1 0 38.6 0 a19.3 19.3 0 1 0 -38.6 0zM1423.1 1352.9 a19.3 19.3 0 1 0 38.6 0 a19.3 19.3 0 1 0 -38.6 0zM1430.9 1351.6 a19.3 19.3 0 1 0 38.6 0 a19.3 19.3 0 1 0 -38.6 0zM1438.6 1355.4 a19.3 19.3 0 1 0 38.6 0 a19.3 19.3 0 1 0 -38.6 0zM1446.4 1358.9 a19.3 19.3 0 1 0 38.6 0 a19.3 19.3 0 1 0 -38.6 0zM1454.1 1367.2 a19.3 19.3 0 1 0 38.6 0 a19.3 19.3 0 1 0 -38.6 0zM1461.9 1353.1 a19.3 19.3 0 1 0 38.6 0 a19.3 19.3 0 1 0 -38.6 0zM1469.6 1362.2 a19.3 19.3 0 1 0 38.6 0 a19.3 19.3 0 1 0 -38.6 0zM1477.4 1361.7 a19.3 19.3 0 1 0 38.6 0 a19.3 19.3 0 1 0 -38.6 0zM1485.1 1362.6 a19.3 19.3 0 1 0 38.6 0 a19.3 19.3 0 1 0 -38.6 0zM1492.9 1359.5 a19.3 19.3 0 1 0 38.6 0 a19.3 19.3 0 1 0 -38.6 0zM1500.7 1362.4 a19.3 19.3 0 1 0 38.6 0 a19.3 19.3 0 1 0 -38.6 0zM1508.4 1359.6 a19.3 19.3 0 1 0 38.6 0 a19.3 19.3 0 1 0 -38.6 0zM1516.2 1365.6 a19.3 19.3 0 1 0 38.6 0 a19.3 19.3 0 1 0 -38.6 0zM1523.9 1360.6 a19.3 19.3 0 1 0 38.6 0 a19.3 19.3 0 1 0 -38.6 0zM1531.7 1343.2 a19.3 19.3 0 1 0 38.6 0 a19.3 19.3 0 1 0 -38.6 0zM1539.4 1357.9 a19.3 19.3 0 1 0 38.6 0 a19.3 19.3 0 1 0 -38.6 0zM1547.2 1358.7 a19.3 19.3 0 1 0 38.6 0 a19.3 19.3 0 1 0 -38.6 0zM1554.9 1353.5 a19.3 19.3 0 1 0 38.6 0 a19.3 19.3 0 1 0 -38.6 0zM1562.7 1352.0 a19.3 19.3 0 1 0 38.6 0 a19.3 19.3 0 1 0 -38.6 0zM1570.4 1363.5 a19.3 19.3 0 1 0 38.6 0 a19.3 19.3 0 1 0 -38.6 0zM1578.2 1357.4 a19.3 19.3 0 1 0 38.6 0 a19.3 19.3 0 1 0 -38.6 0zM1585.9 1349.9 a19.3 19.3 0 1 0 38.6 0 a19.3 19.3 0 1 0 -38.6 0zM1593.7 1353.9 a19.3 19.3 0 1 0 38.6 0 a19.3 19.3 0 1 0 -38.6 0zM1601.4 1354.6 a19.3 19.3 0 1 0 38.6 0 a19.3 19.3 0 1 0 -38.6 0zM1609.2 1345.2 a19.3 19.3 0 1 0 38.6 0 a19.3 19.3 0 1 0 -38.6 0zM1616.9 1359.2 a19.3 19.3 0 1 0 38.6 0 a19.3 19.3 0 1 0 -38.6 0zM1624.7 1354.1 a19.3 19.3 0 1 0 38.6 0 a19.3 19.3 0 1 0 -38.6 0zM1632.4 1357.7 a19.3 19.3 0 1 0 38.6 0 a19.3 19.3 0 1 0 -38.6 0zM1640.2 1344.6 a19.3 19.3 0 1 0 38.6 0 a19.3 19.3 0 1 0 -38.6 0zM1647.9 1366.4 a19.3 19.3 0 1 0 38.6 0 a19.3 19.3 0 1 0 -38.6 0zM1655.7 1357.9 a19.3 19.3 0 1 0 38.6 0 a19.3 19.3 0 1 0 -38.6 0zM1663.5 1356.8 a19.3 19.3 0 1 0 38.6 0 a19.3 19.3 0 1 0 -38.6 0zM1671.2 1348.8 a19.3 19.3 0 1 0 38.6 0 a19.3 19.3 0 1 0 -38.6 0zM1679.0 1348.9 a19.3 19.3 0 1 0 38.6 0 a19.3 19.3 0 1 0 -38.6 0zM1686.7 1343.4 a19.3 19.3 0 1 0 38.6 0 a19.3 19.3 0 1 0 -38.6 0zM1694.5 1362.1 a19.3 19.3 0 1 0 38.6 0 a19.3 19.3 0 1 0 -38.6 0zM1702.2 1346.8 a19.3 19.3 0 1 0 38.6 0 a19.3 19.3 0 1 0 -38.6 0zM1710.0 1353.1 a19.3 19.3 0 1 0 38.6 0 a19.3 19.3 0 1 0 -38.6 0zM1717.7 1355.0 a19.3 19.3 0 1 0 38.6 0 a19.3 19.3 0 1 0 -38.6 0zM1725.5 1346.8 a19.3 19.3 0 1 0 38.6 0 a19.3 19.3 0 1 0 -38.6 0zM1733.2 1355.7 a19.3 19.3 0 1 0 38.6 0 a19.3 19.3 0 1 0 -38.6 0zM1741.0 1362.7 a19.3 19.3 0 1 0 38.6 0 a19.3 19.3 0 1 0 -38.6 0zM1748.7 1351.3 a19.3 19.3 0 1 0 38.6 0 a19.3 19.3 0 1 0 -38.6 0zM1756.5 1358.0 a19.3 19.3 0 1 0 38.6 0 a19.3 19.3 0 1 0 -38.6 0zM1764.2 1352.1 a19.3 19.3 0 1 0 38.6 0 a19.3 19.3 0 1 0 -38.6 0zM1772.0 1345.1 a19.3 19.3 0 1 0 38.6 0 a19.3 19.3 0 1 0 -38.6 0zM1779.7 1345.1 a19.3 19.3 0 1 0 38.6 0 a19.3 19.3 0 1 0 -38.6 0zM1787.5 1336.5 a19.3 19.3 0 1 0 38.6 0 a19.3 19.3 0 1 0 -38.6 0zM1795.2 1347.5 a19.3 19.3 0 1 0 38.6 0 a19.3 19.3 0 1 0 -38.6 0zM1803.0 1355.7 a19.3 19.3 0 1 0 38.6 0 a19.3 19.3 0 1 0 -38.6 0zM1810.8 1350.3 a19.3 19.3 0 1 0 38.6 0 a19.3 19.3 0 1 0 -38.6 0zM1818.5 1351.0 a19.3 19.3 0 1 0 38.6 0 a19.3 19.3 0 1 0 -38.6 0zM1826.3 1352.6 a19.3 19.3 0 1 0 38.6 0 a19.3 19.3 0 1 0 -38.6 0zM1834.0 1341.7 a19.3 19.3 0 1 0 38.6 0 a19.3 19.3 0 1 0 -38.6 0zM1841.8 1348.4 a19.3 19.3 0 1 0 38.6 0 a19.3 19.3 0 1 0 -38.6 0zM1849.5 1356.7 a19.3 19.3 0 1 0 38.6 0 a19.3 19.3 0 1 0 -38.6 0zM1857.3 1339.4 a19.3 19.3 0 1 0 38.6 0 a19.3 19.3 0 1 0 -38.6 0zM1865.0 1344.5 a19.3 19.3 0 1 0 38.6 0 a19.3 19.3 0 1 0 -38.6 0zM1872.8 1341.4 a19.3 19.3 0 1 0 38.6 0 a19.3 19.3 0 1 0 -38.6 0zM1880.5 1343.0 a19.3 19.3 0 1 0 38.6 0 a19.3 19.3 0 1 0 -38.6 0zM1888.3 1339.5 a19.3 19.3 0 1 0 38.6 0 a19.3 19.3 0 1 0 -38.6 0zM1896.0 1343.3 a19.3 19.3 0 1 0 38.6 0 a19.3 19.3 0 1 0 -38.6 0zM1903.8 1335.5 a19.3 19.3 0 1 0 38.6 0 a19.3 19.3 0 1 0 -38.6 0zM1911.5 1340.7 a19.3 19.3 0 1 0 38.6 0 a19.3 19.3 0 1 0 -38.6 0zM1919.3 1340.8 a19.3 19.3 0 1 0 38.6 0 a19.3 19.3 0 1 0 -38.6 0zM1927.0 1340.6 a19.3 19.3 0 1 0 38.6 0 a19.3 19.3 0 1 0 -38.6 0zM1934.8 1352.6 a19.3 19.3 0 1 0 38.6 0 a19.3 19.3 0 1 0 -38.6 0zM1942.5 1344.2 a19.3 19.3 0 1 0 38.6 0 a19.3 19.3 0 1 0 -38.6 0zM1950.3 1344.8 a19.3 19.3 0 1 0 38.6 0 a19.3 19.3 0 1 0 -38.6 0zM1958.0 1341.7 a19.3 19.3 0 1 0 38.6 0 a19.3 19.3 0 1 0 -38.6 0zM1965.8 1351.7 a19.3 19.3 0 1 0 38.6 0 a19.3 19.3 0 1 0 -38.6 0zM1973.6 1332.5 a19.3 19.3 0 1 0 38.6 0 a19.3 19.3 0 1 0 -38.6 0zM1981.3 1342.3 a19.3 19.3 0 1 0 38.6 0 a19.3 19.3 0 1 0 -38.6 0zM1989.1 1350.6 a19.3 19.3 0 1 0 38.6 0 a19.3 19.3 0 1 0 -38.6 0zM1996.8 1353.8 a19.3 19.3 0 1 0 38.6 0 a19.3 19.3 0 1 0 -38.6 0zM2004.6 1345.3 a19.3 19.3 0 1 0 38.6 0 a19.3 19.3 0 1 0 -38.6 0zM2012.3 1343.6 a19.3 19.3 0 1 0 38.6 0 a19.3 19.3 0 1 0 -38.6 0zM2020.1 1349.2 a19.3 19.3 0 1 0 38.6 0 a19.3 19.3 0 1 0 -38.6 0zM2027.8 1341.9 a19.3 19.3 0 1 0 38.6 0 a19.3 19.3 0 1 0 -38.6 0zM2035.6 1348.4 a19.3 19.3 0 1 0 38.6 0 a19.3 19.3 0 1 0 -38.6 0zM2043.3 1337.7 a19.3 19.3 0 1 0 38.6 0 a19.3 19.3 0 1 0 -38.6 0zM2051.1 1349.1 a19.3 19.3 0 1 0 38.6 0 a19.3 19.3 0 1 0 -38.6 0zM2058.8 1343.0 a19.3 19.3 0 1 0 38.6 0 a19.3 19.3 0 1 0 -38.6 0zM2066.6 1333.8 a19.3 19.3 0 1 0 38.6 0 a19.3 19.3 0 1 0 -38.6 0zM2074.3 1319.5 a19.3 19.3 0 1 0 38.6 0 a19.3 19.3 0 1 0 -38.6 0zM2082.1 1351.6 a19.3 19.3 0 1 0 38.6 0 a19.3 19.3 0 1 0 -38.6 0zM2089.8 1346.7 a19.3 19.3 0 1 0 38.6 0 a19.3 19.3 0 1 0 -38.6 0zM2097.6 1350.1 a19.3 19.3 0 1 0 38.6 0 a19.3 19.3 0 1 0 -38.6 0zM2105.3 1335.5 a19.3 19.3 0 1 0 38.6 0 a19.3 19.3 0 1 0 -38.6 0zM2113.1 1352.8 a19.3 19.3 0 1 0 38.6 0 a19.3 19.3 0 1 0 -38.6 0zM2120.8 1346.9 a19.3 19.3 0 1 0 38.6 0 a19.3 19.3 0 1 0 -38.6 0z" fill="#0000ff"/>
<path d="M279.6 1438.7 L287.3 1440.0 L295.1 1439.9 L302.8 1439.1 L310.6 1444.3 L318.3 1439.4 L326.1 1427.2 L333.8 1415.7 L341.6 1409.3 L349.3 1408.4 L357.1 1392.7 L364.8 1377.1 L372.6 1368.7 L380.3 1362.3 L388.1 1357.0 L395.8 1340.5 L403.6 1337.7 L411.3 1332.1 L419.1 1321.9 L426.8 1302.5 L434.6 1300.1 L442.4 1287.0 L450.1 1286.3 L457.9 1270.3 L465.6 1268.6 L473.4 1256.6 L481.1 1233.2 L488.9 1230.6 L496.6 1225.2 L504.4 1210.9 L512.1 1196.1 L519.9 1178.5 L527.6 1173.3 L535.4 1165.7 L543.1 1144.4 L550.9 1128.8 L558.6 1114.2 L566.4 1094.0 L574.1 1084.9 L581.9 1068.7 L589.7 1064.3 L597.4 1040.6 L605.2 1020.4 L612.9 1012.7 L620.7 1001.0 L628.4 987.2 L636.2 964.9 L643.9 964.2 L651.7 946.3 L659.4 929.8 L667.2 914.9 L674.9 907.2 L682.7 889.9 L690.4 878.9 L698.2 862.8 L705.9 849.7 L713.7 840.1 L721.4 820.1 L729.2 801.2 L736.9 795.9 L744.7 778.1 L752.5 759.4 L760.2 753.4 L768.0 732.6 L775.7 724.3 L783.5 699.5 L791.2 680.4 L799.0 669.4 L806.7 669.1 L814.5 654.1 L822.2 647.4 L830.0 637.8 L837.7 621.0 L845.5 626.1 L853.2 605.7 L861.0 602.8 L868.7 587.5 L876.5 585.8 L884.2 582.7 L892.0 571.0 L899.8 561.8 L907.5 558.8 L915.3 551.0 L923.0 551.4 L930.8 555.6 L938.5 537.2 L946.3 534.9 L954.0 533.9 L961.8 530.2 L969.5 521.2 L977.3 524.3 L985.0 521.6 L992.8 515.4 L1000.5 505.0 L1008.3 514.2 L1016.0 498.1 L1023.8 503.9 L1031.5 503.2 L1039.3 488.8 L1047.0 492.9 L1054.8 496.4 L1062.6 489.5 L1070.3 480.9 L1078.1 477.4 L1085.8 483.3 L1093.6 477.2 L1101.3 473.7 L1109.1 478.5 L1116.8 471.7 L1124.6 471.7 L1132.3 472.4 L1140.1 470.4 L1147.8 465.9 L1155.6 464.3 L1163.3 465.4 L1171.1 463.0 L1178.8 453.6 L1186.6 456.2 L1194.3 451.1 L1202.1 447.7 L1209.9 448.8 L1217.6 438.7 L1225.4 452.1 L1233.1 442.1 L1240.9 445.8 L1248.6 433.3 L1256.4 432.2 L1264.1 448.5 L1271.9 441.8 L1279.6 432.0 L1287.4 429.7 L1295.1 428.3 L1302.9 430.7 L1310.6 426.5 L1318.4 424.0 L1326.1 426.1 L1333.9 419.3 L1341.6 434.1 L1349.4 418.6 L1357.1 425.6 L1364.9 414.5 L1372.7 419.2 L1380.4 421.3 L1388.2 414.0 L1395.9 419.2 L1403.7 418.1 L1411.4 420.3 L1419.2 411.7 L1426.9 408.1 L1434.7 404.5 L1442.4 409.3 L1450.2 402.4 L1457.9 406.6 L1465.7 406.1 L1473.4 401.9 L1481.2 398.6 L1488.9 404.5 L1496.7 403.1 L1504.4 401.7 L1512.2 399.6 L1520.0 403.4 L1527.7 392.9 L1535.5 399.0 L1543.2 393.7 L1551.0 399.0 L1558.7 392.1 L1566.5 390.9 L1574.2 393.9 L1582.0 380.8 L1589.7 387.8 L1597.5 379.9 L1605.2 382.8 L1613.0 389.8 L1620.7 387.3 L1628.5 382.2 L1636.2 383.0 L1644.0 382.0 L1651.7 382.6 L1659.5 389.0 L1667.2 380.1 L1675.0 388.8 L1682.8 374.9 L1690.5 379.2 L1698.3 377.9 L1706.0 374.3 L1713.8 370.7 L1721.5 377.8 L1729.3 378.1 L1737.0 373.4 L1744.8 376.8 L1752.5 370.1 L1760.3 356.0 L1768.0 367.6 L1775.8 357.8 L1783.5 366.3 L1791.3 356.6 L1799.0 358.3 L1806.8 355.6 L1814.5 351.1 L1822.3 343.9 L1830.0 350.3 L1837.8 349.4 L1845.6 353.6 L1853.3 344.8 L1861.1 347.9 L1868.8 341.5 L1876.6 344.8 L1884.3 335.0 L1892.1 352.4 L1899.8 343.1 L1907.6 336.3 L1915.3 342.3 L1923.1 344.6 L1930.8 339.8 L1938.6 347.2 L1946.3 335.3 L1954.1 317.3 L1961.8 326.1 L1969.6 342.0 L1977.3 339.6 L1985.1 335.4 L1992.9 324.4 L2000.6 337.3 L2008.4 335.8 L2016.1 323.7 L2023.9 323.3 L2031.6 332.0 L2039.4 337.1 L2047.1 339.8 L2054.9 333.1 L2062.6 344.0 L2070.4 321.6 L2078.1 331.4 L2085.9 322.8 L2093.6 312.2 L2101.4 317.1 L2109.1 334.0 L2116.9 318.8 L2124.6 316.5 L2132.4 330.4 L2140.2 331.7" fill="none" stroke="#008080" stroke-width="2"/>
<path d="M279.6 1411.0 L255.6 1452.5 L303.6 1452.5 zM287.3 1412.3 L263.3 1453.9 L311.3 1453.9 zM295.1 1412.2 L271.1 1453.8 L319.1 1453.8 zM302.8 1411.4 L278.8 1453.0 L326.8 1453.0 zM310.6 1416.6 L286.6 1458.2 L334.6 1458.2 zM318.3 1411.7 L294.3 1453.2 L342.3 1453.2 zM326.1 1399.5 L302.1 1441.1 L350.1 1441.1 zM333.8 1388.0 L309.8 1429.6 L357.8 1429.6 zM341.6 1381.5 L317.6 1423.1 L365.6 1423.1 zM349.3 1380.7 L325.3 1422.2 L373.3 1422.2 zM357.1 1365.0 L333.1 1406.6 L381.1 1406.6 zM364.8 1349.4 L340.8 1390.9 L388.8 1390.9 zM372.6 1341.0 L348.6 1382.6 L396.6 1382.6 zM380.3 1334.6 L356.3 1376.2 L404.3 1376.2 zM388.1 1329.2 L364.1 1370.8 L412.1 1370.8 zM395.8 1312.8 L371.8 1354.3 L419.8 1354.3 zM403.6 1310.0 L379.6 1351.6 L427.6 1351.6 zM411.3 1304.4 L387.3 1346.0 L435.3 1346.0 zM419.1 1294.2 L395.1 1335.8 L443.1 1335.8 zM426.8 1274.7 L402.8 1316.3 L450.8 1316.3 zM434.6 1272.4 L410.6 1314.0 L458.6 1314.0 zM442.4 1259.3 L418.4 1300.8 L466.4 1300.8 zM450.1 1258.6 L426.1 1300.2 L474.1 1300.2 zM457.9 1242.6 L433.9 1284.2 L481.9 1284.2 zM465.6 1240.8 L441.6 1282.4 L489.6 1282.4 zM473.4 1228.8 L449.4 1270.4 L497.4 1270.4 zM481.1 1205.5 L457.1 1247.0 L505.1 1247.0 zM488.9 1202.9 L464.9 1244.5 L512.9 1244.5 zM496.6 1197.5 L472.6 1239.1 L520.6 1239.1 zM504.4 1183.2 L480.4 1224.8 L528.4 1224.8 zM512.1 1168.4 L488.1 1210.0 L536.1 1210.0 zM519.9 1150.8 L495.9 1192.4 L543.9 1192.4 zM527.6 1145.6 L503.6 1187.2 L551.6 1187.2 zM535.4 1138.0 L511.4 1179.5 L559.4 1179.5 zM543.1 1116.7 L519.1 1158.3 L567.1 1158.3 zM550.9 1101.1 L526.9 1142.7 L574.9 1142.7 zM558.6 1086.4 L534.6 1128.0 L582.6 1128.0 zM566.4 1066.3 L542.4 1107.9 L590.4 1107.9 zM574.1 1057.2 L550.1 1098.8 L598.1 1098.8 zM581.9 1040.9 L557.9 1082.5 L605.9 1082.5 zM589.7 1036.6 L565.7 1078.1 L613.7 1078.1 zM597.4 1012.9 L573.4 1054.4 L621.4 1054.4 zM605.2 992.7 L581.2 1034.2 L629.2 1034.2 zM612.9 984.9 L588.9 1026.5 L636.9 1026.5 zM620.7 973.2 L596.7 1014.8 L644.7 1014.8 zM628.4 959.5 L604.4 1001.0 L652.4 1001.0 zM636.2 937.2 L612.2 978.8 L660.2 978.8 zM643.9 936.5 L619.9 978.1 L667.9 978.1 zM651.7 918.6 L627.7 960.1 L675.7 960.1 zM659.4 902.1 L635.4 943.6 L683.4 943.6 zM667.2 887.2 L643.2 928.7 L691.2 928.7 zM674.9 879.5 L650.9 921.1 L698.9 921.1 zM682.7 862.2 L658.7 903.8 L706.7 903.8 zM690.4 851.2 L666.4 892.8 L714.4 892.8 zM698.2 835.1 L674.2 876.6 L722.2 876.6 zM705.9 821.9 L681.9 863.5 L729.9 863.5 zM713.7 812.4 L689.7 854.0 L737.7 854.0 zM721.4 792.4 L697.4 834.0 L745.4 834.0 zM729.2 773.5 L705.2 815.0 L753.2 815.0 zM736.9 768.2 L712.9 809.7 L760.9 809.7 zM744.7 750.4 L720.7 792.0 L768.7 792.0 zM752.5 731.6 L728.5 773.2 L776.5 773.2 zM760.2 725.6 L736.2 767.2 L784.2 767.2 zM768.0 704.9 L744.0 746.4 L792.0 746.4 zM775.7 696.6 L751.7 738.2 L799.7 738.2 zM783.5 671.8 L759.5 713.4 L807.5 713.4 zM791.2 652.7 L767.2 694.2 L815.2 694.2 zM799.0 641.7 L775.0 683.2 L823.0 683.2 zM806.7 641.4 L782.7 682.9 L830.7 682.9 zM814.5 626.3 L790.5 667.9 L838.5 667.9 zM822.2 619.7 L798.2 661.2 L846.2 661.2 zM830.0 610.0 L806.0 651.6 L854.0 651.6 zM837.7 593.3 L813.7 634.9 L861.7 634.9 zM845.5 598.3 L821.5 639.9 L869.5 639.9 zM853.2 578.0 L829.2 619.6 L877.2 619.6 zM861.0 575.1 L837.0 616.6 L885.0 616.6 zM868.7 559.8 L844.7 601.4 L892.7 601.4 zM876.5 558.1 L852.5 599.6 L900.5 599.6 zM884.2 555.0 L860.2 596.6 L908.2 596.6 zM892.0 543.2 L868.0 584.8 L916.0 584.8 zM899.8 534.1 L875.8 575.6 L923.8 575.6 zM907.5 531.1 L883.5 572.7 L931.5 572.7 zM915.3 523.3 L891.3 564.8 L939.3 564.8 zM923.0 523.7 L899.0 565.2 L947.0 565.2 zM930.8 527.8 L906.8 569.4 L954.8 569.4 zM938.5 509.5 L914.5 551.1 L962.5 551.1 zM946.3 507.2 L922.3 548.7 L970.3 548.7 zM954.0 506.2 L930.0 547.8 L978.0 547.8 zM961.8 502.5 L937.8 544.0 L985.8 544.0 zM969.5 493.4 L945.5 535.0 L993.5 535.0 zM977.3 496.6 L953.3 538.2 L1001.3 538.2 zM985.0 493.9 L961.0 535.5 L1009.0 535.5 zM992.8 487.7 L968.8 529.3 L1016.8 529.3 zM1000.5 477.3 L976.5 518.9 L1024.5 518.9 zM1008.3 486.5 L984.3 528.0 L1032.3 528.0 zM1016.0 470.4 L992.0 511.9 L1040.0 511.9 zM1023.8 476.2 L999.8 517.7 L1047.8 517.7 zM1031.5 475.5 L1007.5 517.0 L1055.5 517.0 zM1039.3 461.1 L1015.3 502.6 L1063.3 502.6 zM1047.0 465.2 L1023.0 506.8 L1071.0 506.8 zM1054.8 468.7 L1030.8 510.3 L1078.8 510.3 zM1062.6 461.8 L1038.6 503.3 L1086.6 503.3 zM1070.3 453.2 L1046.3 494.7 L1094.3 494.7 zM1078.1 449.7 L1054.1 491.3 L1102.1 491.3 zM1085.8 455.6 L1061.8 497.2 L1109.8 497.2 zM1093.6 449.5 L1069.6 491.0 L1117.6 491.0 zM1101.3 446.0 L1077.3 487.5 L1125.3 487.5 zM1109.1 450.7 L1085.1 492.3 L1133.1 492.3 zM1116.8 443.9 L1092.8 485.5 L1140.8 485.5 zM1124.6 444.0 L1100.6 485.6 L1148.6 485.6 zM1132.3 444.7 L1108.3 486.3 L1156.3 486.3 zM1140.1 442.7 L1116.1 484.2 L1164.1 484.2 zM1147.8 438.1 L1123.8 479.7 L1171.8 479.7 zM1155.6 436.6 L1131.6 478.1 L1179.6 478.1 zM1163.3 437.7 L1139.3 479.3 L1187.3 479.3 zM1171.1 435.3 L1147.1 476.8 L1195.1 476.8 zM1178.8 425.9 L1154.8 467.5 L1202.8 467.5 zM1186.6 428.5 L1162.6 470.1 L1210.6 470.1 zM1194.3 423.4 L1170.3 464.9 L1218.3 464.9 zM1202.1 419.9 L1178.1 461.5 L1226.1 461.5 zM1209.9 421.1 L1185.9 462.7 L1233.9 462.7 zM1217.6 411.0 L1193.6 452.5 L1241.6 452.5 zM1225.4 424.3 L1201.4 465.9 L1249.4 465.9 zM1233.1 414.4 L1209.1 456.0 L1257.1 456.0 zM1240.9 418.1 L1216.9 459.7 L1264.9 459.7 zM1248.6 405.6 L1224.6 447.1 L1272.6 447.1 zM1256.4 404.5 L1232.4 446.1 L1280.4 446.1 zM1264.1 420.7 L1240.1 462.3 L1288.1 462.3 zM1271.9 414.1 L1247.9 455.7 L1295.9 455.7 zM1279.6 404.3 L1255.6 445.9 L1303.6 445.9 zM1287.4 402.0 L1263.4 443.6 L1311.4 443.6 zM1295.1 400.6 L1271.1 442.2 L1319.1 442.2 zM1302.9 402.9 L1278.9 444.5 L1326.9 444.5 zM1310.6 398.8 L1286.6 440.3 L1334.6 440.3 zM1318.4 396.3 L1294.4 437.9 L1342.4 437.9 zM1326.1 398.4 L1302.1 440.0 L1350.1 440.0 zM1333.9 391.6 L1309.9 433.1 L1357.9 433.1 zM1341.6 406.4 L1317.6 448.0 L1365.6 448.0 zM1349.4 390.9 L1325.4 432.5 L1373.4 432.5 zM1357.1 397.9 L1333.1 439.4 L1381.1 439.4 zM1364.9 386.8 L1340.9 428.4 L1388.9 428.4 zM1372.7 391.5 L1348.7 433.1 L1396.7 433.1 zM1380.4 393.6 L1356.4 435.2 L1404.4 435.2 zM1388.2 386.2 L1364.2 427.8 L1412.2 427.8 zM1395.9 391.5 L1371.9 433.1 L1419.9 433.1 zM1403.7 390.4 L1379.7 432.0 L1427.7 432.0 zM1411.4 392.6 L1387.4 434.2 L1435.4 434.2 zM1419.2 384.0 L1395.2 425.5 L1443.2 425.5 zM1426.9 380.4 L1402.9 422.0 L1450.9 422.0 zM1434.7 376.8 L1410.7 418.4 L1458.7 418.4 zM1442.4 381.6 L1418.4 423.1 L1466.4 423.1 zM1450.2 374.7 L1426.2 416.3 L1474.2 416.3 zM1457.9 378.8 L1433.9 420.4 L1481.9 420.4 zM1465.7 378.4 L1441.7 420.0 L1489.7 420.0 zM1473.4 374.2 L1449.4 415.8 L1497.4 415.8 zM1481.2 370.9 L1457.2 412.4 L1505.2 412.4 zM1488.9 376.8 L1464.9 418.4 L1512.9 418.4 zM1496.7 375.4 L1472.7 416.9 L1520.7 416.9 zM1504.4 374.0 L1480.4 415.6 L1528.4 415.6 zM1512.2 371.8 L1488.2 413.4 L1536.2 413.4 zM1520.0 375.7 L1496.0 417.3 L1544.0 417.3 zM1527.7 365.2 L1503.7 406.8 L1551.7 406.8 zM1535.5 371.3 L1511.5 412.8 L1559.5 412.8 zM1543.2 366.0 L1519.2 407.6 L1567.2 407.6 zM1551.0 371.3 L1527.0 412.9 L1575.0 412.9 zM1558.7 364.4 L1534.7 406.0 L1582.7 406.0 zM1566.5 363.2 L1542.5 404.8 L1590.5 404.8 zM1574.2 366.1 L1550.2 407.7 L1598.2 407.7 zM1582.0 353.1 L1558.0 394.6 L1606.0 394.6 zM1589.7 360.1 L1565.7 401.7 L1613.7 401.7 zM1597.5 352.2 L1573.5 393.7 L1621.5 393.7 zM1605.2 355.1 L1581.2 396.7 L1629.2 396.7 zM1613.0 362.1 L1589.0 403.6 L1637.0 403.6 zM1620.7 359.6 L1596.7 401.2 L1644.7 401.2 zM1628.5 354.5 L1604.5 396.1 L1652.5 396.1 zM1636.2 355.3 L1612.2 396.9 L1660.2 396.9 zM1644.0 354.3 L1620.0 395.9 L1668.0 395.9 zM1651.7 354.9 L1627.7 396.4 L1675.7 396.4 zM1659.5 361.3 L1635.5 402.8 L1683.5 402.8 zM1667.2 352.4 L1643.2 393.9 L1691.2 393.9 zM1675.0 361.1 L1651.0 402.6 L1699.0 402.6 zM1682.8 347.2 L1658.8 388.7 L1706.8 388.7 zM1690.5 351.4 L1666.5 393.0 L1714.5 393.0 zM1698.3 350.2 L1674.3 391.8 L1722.3 391.8 zM1706.0 346.6 L1682.0 388.2 L1730.0 388.2 zM1713.8 343.0 L1689.8 384.5 L1737.8 384.5 zM1721.5 350.1 L1697.5 391.7 L1745.5 391.7 zM1729.3 350.4 L1705.3 391.9 L1753.3 391.9 zM1737.0 345.6 L1713.0 387.2 L1761.0 387.2 zM1744.8 349.1 L1720.8 390.6 L1768.8 390.6 zM1752.5 342.4 L1728.5 383.9 L1776.5 383.9 zM1760.3 328.3 L1736.3 369.9 L1784.3 369.9 zM1768.0 339.9 L1744.0 381.5 L1792.0 381.5 zM1775.8 330.1 L1751.8 371.6 L1799.8 371.6 zM1783.5 338.6 L1759.5 380.2 L1807.5 380.2 zM1791.3 328.9 L1767.3 370.5 L1815.3 370.5 zM1799.0 330.5 L1775.0 372.1 L1823.0 372.1 zM1806.8 327.9 L1782.8 369.4 L1830.8 369.4 zM1814.5 323.4 L1790.5 365.0 L1838.5 365.0 zM1822.3 316.2 L1798.3 357.8 L1846.3 357.8 zM1830.0 322.6 L1806.0 364.2 L1854.0 364.2 zM1837.8 321.7 L1813.8 363.3 L1861.8 363.3 zM1845.6 325.9 L1821.6 367.5 L1869.6 367.5 zM1853.3 317.1 L1829.3 358.7 L1877.3 358.7 zM1861.1 320.2 L1837.1 361.7 L1885.1 361.7 zM1868.8 313.8 L1844.8 355.4 L1892.8 355.4 zM1876.6 317.1 L1852.6 358.7 L1900.6 358.7 zM1884.3 307.3 L1860.3 348.9 L1908.3 348.9 zM1892.1 324.7 L1868.1 366.2 L1916.1 366.2 zM1899.8 315.4 L1875.8 356.9 L1923.8 356.9 zM1907.6 308.6 L1883.6 350.2 L1931.6 350.2 zM1915.3 314.6 L1891.3 356.2 L1939.3 356.2 zM1923.1 316.9 L1899.1 358.5 L1947.1 358.5 zM1930.8 312.1 L1906.8 353.7 L1954.8 353.7 zM1938.6 319.5 L1914.6 361.1 L1962.6 361.1 zM1946.3 307.6 L1922.3 349.1 L1970.3 349.1 zM1954.1 289.6 L1930.1 331.1 L1978.1 331.1 zM1961.8 298.4 L1937.8 339.9 L1985.8 339.9 zM1969.6 314.3 L1945.6 355.9 L1993.6 355.9 zM1977.3 311.8 L1953.3 353.4 L2001.3 353.4 zM1985.1 307.7 L1961.1 349.3 L2009.1 349.3 zM1992.9 296.7 L1968.9 338.2 L2016.9 338.2 zM2000.6 309.6 L1976.6 351.2 L2024.6 351.2 zM2008.4 308.1 L1984.4 349.7 L2032.4 349.7 zM2016.1 296.0 L1992.1 337.5 L2040.1 337.5 zM2023.9 295.6 L1999.9 337.2 L2047.9 337.2 zM2031.6 304.3 L2007.6 345.9 L2055.6 345.9 zM2039.4 309.4 L2015.4 350.9 L2063.4 350.9 zM2047.1 312.1 L2023.1 353.7 L2071.1 353.7 zM2054.9 305.4 L2030.9 346.9 L2078.9 346.9 zM2062.6 316.3 L2038.6 357.9 L2086.6 357.9 zM2070.4 293.9 L2046.4 335.4 L2094.4 335.4 zM2078.1 303.7 L2054.1 345.2 L2102.1 345.2 zM2085.9 295.1 L2061.9 336.7 L2109.9 336.7 zM2093.6 284.5 L2069.6 326.1 L2117.6 326.1 zM2101.4 289.4 L2077.4 330.9 L2125.4 330.9 zM2109.1 306.3 L2085.1 347.8 L2133.1 347.8 zM2116.9 291.1 L2092.9 332.7 L2140.9 332.7 zM2124.6 288.7 L2100.6 330.3 L2148.6 330.3 zM2132.4 302.6 L2108.4 344.2 L2156.4 344.2 zM2140.2 304.0 L2116.2 345.6 L2164.2 345.6 z" fill="#008080"/>
<path d="M279.6 1426.5 L287.3 1421.9 L295.1 1411.0 L302.8 1411.0 L310.6 1401.6 L318.3 1391.7 L326.1 1383.6 L333.8 1373.3 L341.6 1363.8 L349.3 1356.4 L357.1 1341.1 L364.8 1345.0 L372.6 1326.2 L380.3 1319.4 L388.1 1306.0 L395.8 1295.8 L403.6 1290.6 L411.3 1279.4 L419.1 1263.1 L426.8 1254.6 L434.6 1248.3 L442.4 1226.2 L450.1 1214.3 L457.9 1219.3 L465.6 1201.1 L473.4 1180.9 L481.1 1177.1 L488.9 1168.3 L496.6 1158.7 L504.4 1148.6 L512.1 1135.6 L519.9 1125.1 L527.6 1107.5 L535.4 1099.9 L543.1 1087.5 L550.9 1077.7 L558.6 1059.5 L566.4 1049.3 L574.1 1032.2 L581.9 1012.5 L589.7 1000.5 L597.4 984.8 L605.2 970.0 L612.9 955.7 L620.7 940.7 L628.4 925.5 L636.2 904.9 L643.9 896.4 L651.7 869.5 L659.4 857.9 L667.2 843.7 L674.9 825.1 L682.7 808.2 L690.4 787.0 L698.2 773.0 L705.9 747.0 L713.7 736.4 L721.4 724.0 L729.2 698.8 L736.9 685.8 L744.7 659.8 L752.5 638.1 L760.2 623.8 L768.0 616.9 L775.7 599.9 L783.5 575.8 L791.2 569.8 L799.0 560.2 L806.7 545.4 L814.5 529.8 L822.2 525.4 L830.0 521.7 L837.7 512.9 L845.5 504.5 L853.2 502.8 L861.0 498.1 L868.7 487.0 L876.5 485.1 L884.2 475.4 L892.0 469.1 L899.8 454.2 L907.5 462.3 L915.3 454.1 L923.0 449.5 L930.8 442.3 L938.5 435.3 L946.3 437.4 L954.0 434.8 L961.8 434.3 L969.5 427.6 L977.3 418.0 L985.0 416.7 L992.8 418.0 L1000.5 412.3 L1008.3 407.7 L1016.0 406.1 L1023.8 401.5 L1031.5 403.8 L1039.3 401.3 L1047.0 402.4 L1054.8 381.8 L1062.6 401.7 L1070.3 385.2 L1078.1 387.0 L1085.8 380.8 L1093.6 386.8 L1101.3 375.1 L1109.1 379.1 L1116.8 370.9 L1124.6 382.7 L1132.3 366.9 L1140.1 374.2 L1147.8 364.4 L1155.6 365.4 L1163.3 355.2 L1171.1 358.3 L1178.8 355.6 L1186.6 353.8 L1194.3 344.0 L1202.1 348.0 L1209.9 337.9 L1217.6 348.1 L1225.4 339.2 L1233.1 338.9 L1240.9 339.4 L1248.6 337.1 L1256.4 332.1 L1264.1 336.6 L1271.9 334.8 L1279.6 336.7 L1287.4 325.8 L1295.1 327.6 L1302.9 320.0 L1310.6 330.1 L1318.4 323.5 L1326.1 331.8 L1333.9 319.3 L1341.6 327.5 L1349.4 316.5 L1357.1 317.0 L1364.9 317.0 L1372.7 328.4 L1380.4 318.2 L1388.2 325.9 L1395.9 320.4 L1403.7 308.7 L1411.4 312.0 L1419.2 318.0 L1426.9 307.6 L1434.7 303.8 L1442.4 309.3 L1450.2 309.3 L1457.9 306.6 L1465.7 302.7 L1473.4 299.9 L1481.2 296.3 L1488.9 294.9 L1496.7 293.7 L1504.4 291.7 L1512.2 293.4 L1520.0 301.3 L1527.7 294.3 L1535.5 291.2 L1543.2 293.0 L1551.0 286.4 L1558.7 290.7 L1566.5 292.0 L1574.2 281.0 L1582.0 283.2 L1589.7 284.1 L1597.5 280.1 L1605.2 278.6 L1613.0 280.6 L1620.7 291.4 L1628.5 282.9 L1636.2 281.1 L1644.0 282.3 L1651.7 276.4 L1659.5 271.3 L1667.2 277.4 L1675.0 279.2 L1682.8 265.1 L1690.5 274.6 L1698.3 276.9 L1706.0 269.8 L1713.8 268.1 L1721.5 272.0 L1729.3 264.8 L1737.0 269.3 L1744.8 270.3 L1752.5 264.8 L1760.3 261.5 L1768.0 266.6 L1775.8 261.7 L1783.5 262.6 L1791.3 249.6 L1799.0 263.6 L1806.8 253.9 L1814.5 259.1 L1822.3 258.6 L1830.0 254.1 L1837.8 252.5 L1845.6 250.1 L1853.3 253.1 L1861.1 256.0 L1868.8 254.8 L1876.6 249.4 L1884.3 248.0 L1892.1 243.5 L1899.8 246.4 L1907.6 242.6 L1915.3 239.5 L1923.1 244.0 L1930.8 249.8 L1938.6 247.3 L1946.3 247.3 L1954.1 233.5 L1961.8 242.6 L1969.6 232.9 L1977.3 234.6 L1985.1 228.9 L1992.9 231.0 L2000.6 234.8 L2008.4 234.5 L2016.1 232.6 L2023.9 231.6 L2031.6 233.9 L2039.4 231.1 L2047.1 223.6 L2054.9 236.9 L2062.6 228.1 L2070.4 232.4 L2078.1 227.3 L2085.9 224.1 L2093.6 227.4 L2101.4 223.4 L2109.1 232.9 L2116.9 221.2 L2124.6 228.0 L2132.4 222.6 L2140.2 224.1" fill="none" stroke="#ff0000" stroke-width="2"/>
<path d="M279.6 1454.2 L255.6 1412.6 L303.6 1412.6 zM287.3 1449.6 L263.3 1408.0 L311.3 1408.0 zM295.1 1438.7 L271.1 1397.2 L319.1 1397.2 zM302.8 1438.7 L278.8 1397.1 L326.8 1397.1 zM310.6 1429.3 L286.6 1387.7 L334.6 1387.7 zM318.3 1419.4 L294.3 1377.8 L342.3 1377.8 zM326.1 1411.3 L302.1 1369.7 L350.1 1369.7 zM333.8 1401.0 L309.8 1359.4 L357.8 1359.4 zM341.6 1391.5 L317.6 1349.9 L365.6 1349.9 zM349.3 1384.1 L325.3 1342.6 L373.3 1342.6 zM357.1 1368.8 L333.1 1327.3 L381.1 1327.3 zM364.8 1372.8 L340.8 1331.2 L388.8 1331.2 zM372.6 1353.9 L348.6 1312.4 L396.6 1312.4 zM380.3 1347.1 L356.3 1305.5 L404.3 1305.5 zM388.1 1333.8 L364.1 1292.2 L412.1 1292.2 zM395.8 1323.5 L371.8 1282.0 L419.8 1282.0 zM403.6 1318.3 L379.6 1276.7 L427.6 1276.7 zM411.3 1307.1 L387.3 1265.5 L435.3 1265.5 zM419.1 1290.8 L395.1 1249.3 L443.1 1249.3 zM426.8 1282.3 L402.8 1240.7 L450.8 1240.7 zM434.6 1276.0 L410.6 1234.4 L458.6 1234.4 zM442.4 1253.9 L418.4 1212.3 L466.4 1212.3 zM450.1 1242.0 L426.1 1200.5 L474.1 1200.5 zM457.9 1247.0 L433.9 1205.5 L481.9 1205.5 zM465.6 1228.8 L441.6 1187.2 L489.6 1187.2 zM473.4 1208.6 L449.4 1167.0 L497.4 1167.0 zM481.1 1204.8 L457.1 1163.2 L505.1 1163.2 zM488.9 1196.0 L464.9 1154.4 L512.9 1154.4 zM496.6 1186.5 L472.6 1144.9 L520.6 1144.9 zM504.4 1176.4 L480.4 1134.8 L528.4 1134.8 zM512.1 1163.3 L488.1 1121.7 L536.1 1121.7 zM519.9 1152.8 L495.9 1111.2 L543.9 1111.2 zM527.6 1135.3 L503.6 1093.7 L551.6 1093.7 zM535.4 1127.7 L511.4 1086.1 L559.4 1086.1 zM543.1 1115.2 L519.1 1073.6 L567.1 1073.6 zM550.9 1105.4 L526.9 1063.8 L574.9 1063.8 zM558.6 1087.3 L534.6 1045.7 L582.6 1045.7 zM566.4 1077.0 L542.4 1035.5 L590.4 1035.5 zM574.1 1059.9 L550.1 1018.3 L598.1 1018.3 zM581.9 1040.2 L557.9 998.7 L605.9 998.7 zM589.7 1028.2 L565.7 986.7 L613.7 986.7 zM597.4 1012.5 L573.4 970.9 L621.4 970.9 zM605.2 997.8 L581.2 956.2 L629.2 956.2 zM612.9 983.4 L588.9 941.8 L636.9 941.8 zM620.7 968.4 L596.7 926.8 L644.7 926.8 zM628.4 953.2 L604.4 911.6 L652.4 911.6 zM636.2 932.6 L612.2 891.0 L660.2 891.0 zM643.9 924.1 L619.9 882.5 L667.9 882.5 zM651.7 897.2 L627.7 855.7 L675.7 855.7 zM659.4 885.6 L635.4 844.0 L683.4 844.0 zM667.2 871.5 L643.2 829.9 L691.2 829.9 zM674.9 852.8 L650.9 811.2 L698.9 811.2 zM682.7 835.9 L658.7 794.3 L706.7 794.3 zM690.4 814.7 L666.4 773.1 L714.4 773.1 zM698.2 800.7 L674.2 759.1 L722.2 759.1 zM705.9 774.7 L681.9 733.1 L729.9 733.1 zM713.7 764.1 L689.7 722.6 L737.7 722.6 zM721.4 751.7 L697.4 710.1 L745.4 710.1 zM729.2 726.6 L705.2 685.0 L753.2 685.0 zM736.9 713.6 L712.9 672.0 L760.9 672.0 zM744.7 687.5 L720.7 645.9 L768.7 645.9 zM752.5 665.8 L728.5 624.3 L776.5 624.3 zM760.2 651.5 L736.2 609.9 L784.2 609.9 zM768.0 644.6 L744.0 603.0 L792.0 603.0 zM775.7 627.6 L751.7 586.1 L799.7 586.1 zM783.5 603.5 L759.5 561.9 L807.5 561.9 zM791.2 597.5 L767.2 556.0 L815.2 556.0 zM799.0 587.9 L775.0 546.3 L823.0 546.3 zM806.7 573.1 L782.7 531.6 L830.7 531.6 zM814.5 557.5 L790.5 515.9 L838.5 515.9 zM822.2 553.1 L798.2 511.6 L846.2 511.6 zM830.0 549.4 L806.0 507.8 L854.0 507.8 zM837.7 540.6 L813.7 499.0 L861.7 499.0 zM845.5 532.2 L821.5 490.6 L869.5 490.6 zM853.2 530.5 L829.2 488.9 L877.2 488.9 zM861.0 525.8 L837.0 484.2 L885.0 484.2 zM868.7 514.7 L844.7 473.2 L892.7 473.2 zM876.5 512.8 L852.5 471.2 L900.5 471.2 zM884.2 503.1 L860.2 461.6 L908.2 461.6 zM892.0 496.8 L868.0 455.2 L916.0 455.2 zM899.8 481.9 L875.8 440.3 L923.8 440.3 zM907.5 490.0 L883.5 448.4 L931.5 448.4 zM915.3 481.9 L891.3 440.3 L939.3 440.3 zM923.0 477.2 L899.0 435.6 L947.0 435.6 zM930.8 470.0 L906.8 428.4 L954.8 428.4 zM938.5 463.0 L914.5 421.4 L962.5 421.4 zM946.3 465.2 L922.3 423.6 L970.3 423.6 zM954.0 462.5 L930.0 420.9 L978.0 420.9 zM961.8 462.0 L937.8 420.5 L985.8 420.5 zM969.5 455.3 L945.5 413.8 L993.5 413.8 zM977.3 445.7 L953.3 404.2 L1001.3 404.2 zM985.0 444.5 L961.0 402.9 L1009.0 402.9 zM992.8 445.7 L968.8 404.2 L1016.8 404.2 zM1000.5 440.0 L976.5 398.4 L1024.5 398.4 zM1008.3 435.4 L984.3 393.8 L1032.3 393.8 zM1016.0 433.8 L992.0 392.2 L1040.0 392.2 zM1023.8 429.2 L999.8 387.7 L1047.8 387.7 zM1031.5 431.5 L1007.5 390.0 L1055.5 390.0 zM1039.3 429.0 L1015.3 387.5 L1063.3 387.5 zM1047.0 430.1 L1023.0 388.5 L1071.0 388.5 zM1054.8 409.5 L1030.8 368.0 L1078.8 368.0 zM1062.6 429.5 L1038.6 387.9 L1086.6 387.9 zM1070.3 412.9 L1046.3 371.4 L1094.3 371.4 zM1078.1 414.7 L1054.1 373.1 L1102.1 373.1 zM1085.8 408.5 L1061.8 366.9 L1109.8 366.9 zM1093.6 414.5 L1069.6 372.9 L1117.6 372.9 zM1101.3 402.8 L1077.3 361.2 L1125.3 361.2 zM1109.1 406.8 L1085.1 365.2 L1133.1 365.2 zM1116.8 398.6 L1092.8 357.0 L1140.8 357.0 zM1124.6 410.4 L1100.6 368.8 L1148.6 368.8 zM1132.3 394.6 L1108.3 353.1 L1156.3 353.1 zM1140.1 401.9 L1116.1 360.3 L1164.1 360.3 zM1147.8 392.1 L1123.8 350.5 L1171.8 350.5 zM1155.6 393.2 L1131.6 351.6 L1179.6 351.6 zM1163.3 382.9 L1139.3 341.3 L1187.3 341.3 zM1171.1 386.0 L1147.1 344.5 L1195.1 344.5 zM1178.8 383.3 L1154.8 341.7 L1202.8 341.7 zM1186.6 381.5 L1162.6 339.9 L1210.6 339.9 zM1194.3 371.7 L1170.3 330.1 L1218.3 330.1 zM1202.1 375.8 L1178.1 334.2 L1226.1 334.2 zM1209.9 365.7 L1185.9 324.1 L1233.9 324.1 zM1217.6 375.8 L1193.6 334.3 L1241.6 334.3 zM1225.4 366.9 L1201.4 325.3 L1249.4 325.3 zM1233.1 366.6 L1209.1 325.0 L1257.1 325.0 zM1240.9 367.1 L1216.9 325.5 L1264.9 325.5 zM1248.6 364.8 L1224.6 323.3 L1272.6 323.3 zM1256.4 359.9 L1232.4 318.3 L1280.4 318.3 zM1264.1 364.3 L1240.1 322.7 L1288.1 322.7 zM1271.9 362.5 L1247.9 321.0 L1295.9 321.0 zM1279.6 364.4 L1255.6 322.8 L1303.6 322.8 zM1287.4 353.5 L1263.4 311.9 L1311.4 311.9 zM1295.1 355.3 L1271.1 313.7 L1319.1 313.7 zM1302.9 347.7 L1278.9 306.1 L1326.9 306.1 zM1310.6 357.9 L1286.6 316.3 L1334.6 316.3 zM1318.4 351.2 L1294.4 309.6 L1342.4 309.6 zM1326.1 359.5 L1302.1 317.9 L1350.1 317.9 zM1333.9 347.0 L1309.9 305.5 L1357.9 305.5 zM1341.6 355.2 L1317.6 313.6 L1365.6 313.6 zM1349.4 344.2 L1325.4 302.6 L1373.4 302.6 zM1357.1 344.8 L1333.1 303.2 L1381.1 303.2 zM1364.9 344.7 L1340.9 303.2 L1388.9 303.2 zM1372.7 356.1 L1348.7 314.6 L1396.7 314.6 zM1380.4 345.9 L1356.4 304.3 L1404.4 304.3 zM1388.2 353.6 L1364.2 312.1 L1412.2 312.1 zM1395.9 348.1 L1371.9 306.6 L1419.9 306.6 zM1403.7 336.4 L1379.7 294.8 L1427.7 294.8 zM1411.4 339.7 L1387.4 298.1 L1435.4 298.1 zM1419.2 345.7 L1395.2 304.2 L1443.2 304.2 zM1426.9 335.3 L1402.9 293.8 L1450.9 293.8 zM1434.7 331.5 L1410.7 289.9 L1458.7 289.9 zM1442.4 337.0 L1418.4 295.4 L1466.4 295.4 zM1450.2 337.0 L1426.2 295.4 L1474.2 295.4 zM1457.9 334.3 L1433.9 292.7 L1481.9 292.7 zM1465.7 330.4 L1441.7 288.8 L1489.7 288.8 zM1473.4 327.6 L1449.4 286.0 L1497.4 286.0 zM1481.2 324.0 L1457.2 282.4 L1505.2 282.4 zM1488.9 322.6 L1464.9 281.0 L1512.9 281.0 zM1496.7 321.4 L1472.7 279.9 L1520.7 279.9 zM1504.4 319.4 L1480.4 277.8 L1528.4 277.8 zM1512.2 321.1 L1488.2 279.5 L1536.2 279.5 zM1520.0 329.1 L1496.0 287.5 L1544.0 287.5 zM1527.7 322.0 L1503.7 280.4 L1551.7 280.4 zM1535.5 318.9 L1511.5 277.4 L1559.5 277.4 zM1543.2 320.7 L1519.2 279.1 L1567.2 279.1 zM1551.0 314.2 L1527.0 272.6 L1575.0 272.6 zM1558.7 318.4 L1534.7 276.8 L1582.7 276.8 zM1566.5 319.7 L1542.5 278.1 L1590.5 278.1 zM1574.2 308.7 L1550.2 267.2 L1598.2 267.2 zM1582.0 311.0 L1558.0 269.4 L1606.0 269.4 zM1589.7 311.8 L1565.7 270.2 L1613.7 270.2 zM1597.5 307.8 L1573.5 266.3 L1621.5 266.3 zM1605.2 306.3 L1581.2 264.7 L1629.2 264.7 zM1613.0 308.3 L1589.0 266.7 L1637.0 266.7 zM1620.7 319.1 L1596.7 277.5 L1644.7 277.5 zM1628.5 310.6 L1604.5 269.1 L1652.5 269.1 zM1636.2 308.8 L1612.2 267.2 L1660.2 267.2 zM1644.0 310.0 L1620.0 268.5 L1668.0 268.5 zM1651.7 304.1 L1627.7 262.6 L1675.7 262.6 zM1659.5 299.1 L1635.5 257.5 L1683.5 257.5 zM1667.2 305.2 L1643.2 263.6 L1691.2 263.6 zM1675.0 307.0 L1651.0 265.4 L1699.0 265.4 zM1682.8 292.8 L1658.8 251.2 L1706.8 251.2 zM1690.5 302.3 L1666.5 260.7 L1714.5 260.7 zM1698.3 304.6 L1674.3 263.1 L1722.3 263.1 zM1706.0 297.6 L1682.0 256.0 L1730.0 256.0 zM1713.8 295.9 L1689.8 254.3 L1737.8 254.3 zM1721.5 299.7 L1697.5 258.1 L1745.5 258.1 zM1729.3 292.6 L1705.3 251.0 L1753.3 251.0 zM1737.0 297.0 L1713.0 255.5 L1761.0 255.5 zM1744.8 298.0 L1720.8 256.5 L1768.8 256.5 zM1752.5 292.6 L1728.5 251.0 L1776.5 251.0 zM1760.3 289.2 L1736.3 247.7 L1784.3 247.7 zM1768.0 294.3 L1744.0 252.7 L1792.0 252.7 zM1775.8 289.4 L1751.8 247.8 L1799.8 247.8 zM1783.5 290.4 L1759.5 248.8 L1807.5 248.8 zM1791.3 277.3 L1767.3 235.7 L1815.3 235.7 zM1799.0 291.3 L1775.0 249.7 L1823.0 249.7 zM1806.8 281.7 L1782.8 240.1 L1830.8 240.1 zM1814.5 286.8 L1790.5 245.3 L1838.5 245.3 zM1822.3 286.3 L1798.3 244.7 L1846.3 244.7 zM1830.0 281.9 L1806.0 240.3 L1854.0 240.3 zM1837.8 280.2 L1813.8 238.7 L1861.8 238.7 zM1845.6 277.8 L1821.6 236.2 L1869.6 236.2 zM1853.3 280.8 L1829.3 239.2 L1877.3 239.2 zM1861.1 283.8 L1837.1 242.2 L1885.1 242.2 zM1868.8 282.5 L1844.8 240.9 L1892.8 240.9 zM1876.6 277.1 L1852.6 235.5 L1900.6 235.5 zM1884.3 275.7 L1860.3 234.1 L1908.3 234.1 zM1892.1 271.2 L1868.1 229.6 L1916.1 229.6 zM1899.8 274.2 L1875.8 232.6 L1923.8 232.6 zM1907.6 270.3 L1883.6 228.8 L1931.6 228.8 zM1915.3 267.2 L1891.3 225.7 L1939.3 225.7 zM1923.1 271.7 L1899.1 230.2 L1947.1 230.2 zM1930.8 277.5 L1906.8 235.9 L1954.8 235.9 zM1938.6 275.1 L1914.6 233.5 L1962.6 233.5 zM1946.3 275.0 L1922.3 233.4 L1970.3 233.4 zM1954.1 261.2 L1930.1 219.6 L1978.1 219.6 zM1961.8 270.3 L1937.8 228.8 L1985.8 228.8 zM1969.6 260.6 L1945.6 219.0 L1993.6 219.0 zM1977.3 262.3 L1953.3 220.7 L2001.3 220.7 zM1985.1 256.6 L1961.1 215.0 L2009.1 215.0 zM1992.9 258.7 L1968.9 217.1 L2016.9 217.1 zM2000.6 262.5 L1976.6 221.0 L2024.6 221.0 zM2008.4 262.2 L1984.4 220.6 L2032.4 220.6 zM2016.1 260.3 L1992.1 218.7 L2040.1 218.7 zM2023.9 259.3 L1999.9 217.7 L2047.9 217.7 zM2031.6 261.6 L2007.6 220.0 L2055.6 220.0 zM2039.4 258.9 L2015.4 217.3 L2063.4 217.3 zM2047.1 251.4 L2023.1 209.8 L2071.1 209.8 zM2054.9 264.6 L2030.9 223.1 L2078.9 223.1 zM2062.6 255.8 L2038.6 214.3 L2086.6 214.3 zM2070.4 260.2 L2046.4 218.6 L2094.4 218.6 zM2078.1 255.0 L2054.1 213.5 L2102.1 213.5 zM2085.9 251.8 L2061.9 210.2 L2109.9 210.2 zM2093.6 255.1 L2069.6 213.5 L2117.6 213.5 zM2101.4 251.1 L2077.4 209.6 L2125.4 209.6 zM2109.1 260.6 L2085.1 219.0 L2133.1 219.0 zM2116.9 248.9 L2092.9 207.4 L2140.9 207.4 zM2124.6 255.7 L2100.6 214.2 L2148.6 214.2 zM2132.4 250.3 L2108.4 208.7 L2156.4 208.7 zM2140.2 251.8 L2116.2 210.3 L2164.2 210.3 z" fill="#ff0000"/>
<path d="M279.6 1437.4 L287.3 1435.1 L295.1 1432.2 L302.8 1421.9 L310.6 1413.4 L318.3 1402.7 L326.1 1395.7 L333.8 1373.6 L341.6 1359.2 L349.3 1352.2 L357.1 1341.4 L364.8 1334.9 L372.6 1316.4 L380.3 1300.3 L388.1 1296.4 L395.8 1284.1 L403.6 1275.3 L411.3 1268.4 L419.1 1248.2 L426.8 1242.5 L434.6 1223.6 L442.4 1205.0 L450.1 1184.9 L457.9 1167.4 L465.6 1147.8 L473.4 1131.4 L481.1 1112.8 L488.9 1088.3 L496.6 1071.0 L504.4 1053.0 L512.1 1032.6 L519.9 1009.5 L527.6 993.1 L535.4 970.4 L543.1 950.3 L550.9 923.3 L558.6 901.5 L566.4 874.9 L574.1 863.6 L581.9 838.2 L589.7 811.2 L597.4 794.8 L605.2 777.7 L612.9 755.2 L620.7 746.8 L628.4 735.4 L636.2 722.5 L643.9 704.4 L651.7 692.1 L659.4 685.4 L667.2 672.2 L674.9 655.5 L682.7 643.6 L690.4 636.1 L698.2 621.0 L705.9 610.5 L713.7 608.0 L721.4 593.8 L729.2 582.7 L736.9 577.9 L744.7 575.5 L752.5 562.3 L760.2 552.0 L768.0 542.7 L775.7 548.3 L783.5 526.6 L791.2 532.7 L799.0 520.3 L806.7 514.1 L814.5 509.8 L822.2 507.7 L830.0 507.4 L837.7 497.5 L845.5 498.0 L853.2 500.3 L861.0 479.9 L868.7 483.6 L876.5 477.1 L884.2 483.2 L892.0 472.9 L899.8 470.1 L907.5 467.8 L915.3 470.4 L923.0 471.9 L930.8 466.3 L938.5 470.5 L946.3 466.5 L954.0 458.3 L961.8 459.2 L969.5 453.9 L977.3 451.0 L985.0 441.8 L992.8 441.1 L1000.5 442.7 L1008.3 436.1 L1016.0 439.9 L1023.8 436.1 L1031.5 429.9 L1039.3 434.8 L1047.0 429.9 L1054.8 431.6 L1062.6 425.3 L1070.3 418.9 L1078.1 425.1 L1085.8 420.5 L1093.6 422.8 L1101.3 422.3 L1109.1 421.2 L1116.8 411.4 L1124.6 407.2 L1132.3 412.0 L1140.1 414.6 L1147.8 408.8 L1155.6 410.8 L1163.3 405.8 L1171.1 406.1 L1178.8 404.7 L1186.6 402.2 L1194.3 404.5 L1202.1 402.3 L1209.9 404.9 L1217.6 399.2 L1225.4 400.6 L1233.1 394.8 L1240.9 395.7 L1248.6 390.6 L1256.4 387.7 L1264.1 391.9 L1271.9 388.2 L1279.6 386.8 L1287.4 379.7 L1295.1 374.9 L1302.9 375.9 L1310.6 378.0 L1318.4 370.6 L1326.1 378.5 L1333.9 367.2 L1341.6 372.6 L1349.4 377.8 L1357.1 358.9 L1364.9 360.8 L1372.7 367.6 L1380.4 362.2 L1388.2 361.9 L1395.9 359.4 L1403.7 363.0 L1411.4 358.9 L1419.2 353.7 L1426.9 353.0 L1434.7 348.4 L1442.4 350.6 L1450.2 341.8 L1457.9 350.2 L1465.7 345.7 L1473.4 351.3 L1481.2 347.8 L1488.9 338.2 L1496.7 344.1 L1504.4 338.1 L1512.2 338.7 L1520.0 340.6 L1527.7 337.1 L1535.5 336.4 L1543.2 335.2 L1551.0 330.0 L1558.7 329.2 L1566.5 332.1 L1574.2 332.1 L1582.0 327.3 L1589.7 327.6 L1597.5 323.0 L1605.2 316.9 L1613.0 321.8 L1620.7 323.8 L1628.5 323.4 L1636.2 324.7 L1644.0 324.0 L1651.7 323.5 L1659.5 320.7 L1667.2 319.9 L1675.0 315.3 L1682.8 318.0 L1690.5 316.4 L1698.3 318.7 L1706.0 308.5 L1713.8 311.1 L1721.5 305.9 L1729.3 307.9 L1737.0 304.5 L1744.8 308.9 L1752.5 304.6 L1760.3 297.0 L1768.0 308.3 L1775.8 299.4 L1783.5 296.4 L1791.3 299.2 L1799.0 296.8 L1806.8 293.8 L1814.5 298.8 L1822.3 294.0 L1830.0 296.9 L1837.8 295.0 L1845.6 293.5 L1853.3 290.7 L1861.1 288.5 L1868.8 286.2 L1876.6 291.1 L1884.3 278.6 L1892.1 280.0 L1899.8 280.1 L1907.6 282.4 L1915.3 280.2 L1923.1 276.8 L1930.8 275.9 L1938.6 281.5 L1946.3 272.3 L1954.1 263.9 L1961.8 278.3 L1969.6 267.8 L1977.3 268.6 L1985.1 269.1 L1992.9 263.1 L2000.6 270.4 L2008.4 265.0 L2016.1 259.7 L2023.9 264.2 L2031.6 264.0 L2039.4 261.3 L2047.1 262.2 L2054.9 254.7 L2062.6 261.9 L2070.4 255.2 L2078.1 261.3 L2085.9 254.2 L2093.6 255.9 L2101.4 263.3 L2109.1 254.1 L2116.9 256.8 L2124.6 254.1 L2132.4 246.8 L2140.2 254.9" fill="none" stroke="#ff00ff" stroke-width="2"/>
<path d="M279.6 1412.4 L304.6 1437.4 L279.6 1462.4 L254.6 1437.4 zM287.3 1410.1 L312.3 1435.1 L287.3 1460.1 L262.3 1435.1 zM295.1 1407.2 L320.1 1432.2 L295.1 1457.2 L270.1 1432.2 zM302.8 1396.9 L327.8 1421.9 L302.8 1446.9 L277.8 1421.9 zM310.6 1388.4 L335.6 1413.4 L310.6 1438.4 L285.6 1413.4 zM318.3 1377.7 L343.3 1402.7 L318.3 1427.7 L293.3 1402.7 zM326.1 1370.7 L351.1 1395.7 L326.1 1420.7 L301.1 1395.7 zM333.8 1348.6 L358.8 1373.6 L333.8 1398.6 L308.8 1373.6 zM341.6 1334.2 L366.6 1359.2 L341.6 1384.2 L316.6 1359.2 zM349.3 1327.2 L374.3 1352.2 L349.3 1377.2 L324.3 1352.2 zM357.1 1316.4 L382.1 1341.4 L357.1 1366.4 L332.1 1341.4 zM364.8 1309.9 L389.8 1334.9 L364.8 1359.9 L339.8 1334.9 zM372.6 1291.4 L397.6 1316.4 L372.6 1341.4 L347.6 1316.4 zM380.3 1275.3 L405.3 1300.3 L380.3 1325.3 L355.3 1300.3 zM388.1 1271.4 L413.1 1296.4 L388.1 1321.4 L363.1 1296.4 zM395.8 1259.1 L420.8 1284.1 L395.8 1309.1 L370.8 1284.1 zM403.6 1250.3 L428.6 1275.3 L403.6 1300.3 L378.6 1275.3 zM411.3 1243.4 L436.3 1268.4 L411.3 1293.4 L386.3 1268.4 zM419.1 1223.2 L444.1 1248.2 L419.1 1273.2 L394.1 1248.2 zM426.8 1217.5 L451.8 1242.5 L426.8 1267.5 L401.8 1242.5 zM434.6 1198.6 L459.6 1223.6 L434.6 1248.6 L409.6 1223.6 zM442.4 1180.0 L467.4 1205.0 L442.4 1230.0 L417.4 1205.0 zM450.1 1159.9 L475.1 1184.9 L450.1 1209.9 L425.1 1184.9 zM457.9 1142.4 L482.9 1167.4 L457.9 1192.4 L432.9 1167.4 zM465.6 1122.8 L490.6 1147.8 L465.6 1172.8 L440.6 1147.8 zM473.4 1106.4 L498.4 1131.4 L473.4 1156.4 L448.4 1131.4 zM481.1 1087.8 L506.1 1112.8 L481.1 1137.8 L456.1 1112.8 zM488.9 1063.3 L513.9 1088.3 L488.9 1113.3 L463.9 1088.3 zM496.6 1046.0 L521.6 1071.0 L496.6 1096.0 L471.6 1071.0 zM504.4 1028.0 L529.4 1053.0 L504.4 1078.0 L479.4 1053.0 zM512.1 1007.6 L537.1 1032.6 L512.1 1057.6 L487.1 1032.6 zM519.9 984.5 L544.9 1009.5 L519.9 1034.5 L494.9 1009.5 zM527.6 968.1 L552.6 993.1 L527.6 1018.1 L502.6 993.1 zM535.4 945.4 L560.4 970.4 L535.4 995.4 L510.4 970.4 zM543.1 925.3 L568.1 950.3 L543.1 975.3 L518.1 950.3 zM550.9 898.3 L575.9 923.3 L550.9 948.3 L525.9 923.3 zM558.6 876.5 L583.6 901.5 L558.6 926.5 L533.6 901.5 zM566.4 849.9 L591.4 874.9 L566.4 899.9 L541.4 874.9 zM574.1 838.6 L599.1 863.6 L574.1 888.6 L549.1 863.6 zM581.9 813.2 L606.9 838.2 L581.9 863.2 L556.9 838.2 zM589.7 786.2 L614.7 811.2 L589.7 836.2 L564.7 811.2 zM597.4 769.8 L622.4 794.8 L597.4 819.8 L572.4 794.8 zM605.2 752.7 L630.2 777.7 L605.2 802.7 L580.2 777.7 zM612.9 730.2 L637.9 755.2 L612.9 780.2 L587.9 755.2 zM620.7 721.8 L645.7 746.8 L620.7 771.8 L595.7 746.8 zM628.4 710.4 L653.4 735.4 L628.4 760.4 L603.4 735.4 zM636.2 697.5 L661.2 722.5 L636.2 747.5 L611.2 722.5 zM643.9 679.4 L668.9 704.4 L643.9 729.4 L618.9 704.4 zM651.7 667.1 L676.7 692.1 L651.7 717.1 L626.7 692.1 zM659.4 660.4 L684.4 685.4 L659.4 710.4 L634.4 685.4 zM667.2 647.2 L692.2 672.2 L667.2 697.2 L642.2 672.2 zM674.9 630.5 L699.9 655.5 L674.9 680.5 L649.9 655.5 zM682.7 618.6 L707.7 643.6 L682.7 668.6 L657.7 643.6 zM690.4 611.1 L715.4 636.1 L690.4 661.1 L665.4 636.1 zM698.2 596.0 L723.2 621.0 L698.2 646.0 L673.2 621.0 zM705.9 585.5 L730.9 610.5 L705.9 635.5 L680.9 610.5 zM713.7 583.0 L738.7 608.0 L713.7 633.0 L688.7 608.0 zM721.4 568.8 L746.4 593.8 L721.4 618.8 L696.4 593.8 zM729.2 557.7 L754.2 582.7 L729.2 607.7 L704.2 582.7 zM736.9 552.9 L761.9 577.9 L736.9 602.9 L711.9 577.9 zM744.7 550.5 L769.7 575.5 L744.7 600.5 L719.7 575.5 zM752.5 537.3 L777.5 562.3 L752.5 587.3 L727.5 562.3 zM760.2 527.0 L785.2 552.0 L760.2 577.0 L735.2 552.0 zM768.0 517.7 L793.0 542.7 L768.0 567.7 L743.0 542.7 zM775.7 523.3 L800.7 548.3 L775.7 573.3 L750.7 548.3 zM783.5 501.6 L808.5 526.6 L783.5 551.6 L758.5 526.6 zM791.2 507.7 L816.2 532.7 L791.2 557.7 L766.2 532.7 zM799.0 495.3 L824.0 520.3 L799.0 545.3 L774.0 520.3 zM806.7 489.1 L831.7 514.1 L806.7 539.1 L781.7 514.1 zM814.5 484.8 L839.5 509.8 L814.5 534.8 L789.5 509.8 zM822.2 482.7 L847.2 507.7 L822.2 532.7 L797.2 507.7 zM830.0 482.4 L855.0 507.4 L830.0 532.4 L805.0 507.4 zM837.7 472.5 L862.7 497.5 L837.7 522.5 L812.7 497.5 zM845.5 473.0 L870.5 498.0 L845.5 523.0 L820.5 498.0 zM853.2 475.3 L878.2 500.3 L853.2 525.3 L828.2 500.3 zM861.0 454.9 L886.0 479.9 L861.0 504.9 L836.0 479.9 zM868.7 458.6 L893.7 483.6 L868.7 508.6 L843.7 483.6 zM876.5 452.1 L901.5 477.1 L876.5 502.1 L851.5 477.1 zM884.2 458.2 L909.2 483.2 L884.2 508.2 L859.2 483.2 zM892.0 447.9 L917.0 472.9 L892.0 497.9 L867.0 472.9 zM899.8 445.1 L924.8 470.1 L899.8 495.1 L874.8 470.1 zM907.5 442.8 L932.5 467.8 L907.5 492.8 L882.5 467.8 zM915.3 445.4 L940.3 470.4 L915.3 495.4 L890.3 470.4 zM923.0 446.9 L948.0 471.9 L923.0 496.9 L898.0 471.9 zM930.8 441.3 L955.8 466.3 L930.8 491.3 L905.8 466.3 zM938.5 445.5 L963.5 470.5 L938.5 495.5 L913.5 470.5 zM946.3 441.5 L971.3 466.5 L946.3 491.5 L921.3 466.5 zM954.0 433.3 L979.0 458.3 L954.0 483.3 L929.0 458.3 zM961.8 434.2 L986.8 459.2 L961.8 484.2 L936.8 459.2 zM969.5 428.9 L994.5 453.9 L969.5 478.9 L944.5 453.9 zM977.3 426.0 L1002.3 451.0 L977.3 476.0 L952.3 451.0 zM985.0 416.8 L1010.0 441.8 L985.0 466.8 L960.0 441.8 zM992.8 416.1 L1017.8 441.1 L992.8 466.1 L967.8 441.1 zM1000.5 417.7 L1025.5 442.7 L1000.5 467.7 L975.5 442.7 zM1008.3 411.1 L1033.3 436.1 L1008.3 461.1 L983.3 436.1 zM1016.0 414.9 L1041.0 439.9 L1016.0 464.9 L991.0 439.9 zM1023.8 411.1 L1048.8 436.1 L1023.8 461.1 L998.8 436.1 zM1031.5 404.9 L1056.5 429.9 L1031.5 454.9 L1006.5 429.9 zM1039.3 409.8 L1064.3 434.8 L1039.3 459.8 L1014.3 434.8 zM1047.0 404.9 L1072.0 429.9 L1047.0 454.9 L1022.0 429.9 zM1054.8 406.6 L1079.8 431.6 L1054.8 456.6 L1029.8 431.6 zM1062.6 400.3 L1087.6 425.3 L1062.6 450.3 L1037.6 425.3 zM1070.3 393.9 L1095.3 418.9 L1070.3 443.9 L1045.3 418.9 zM1078.1 400.1 L1103.1 425.1 L1078.1 450.1 L1053.1 425.1 zM1085.8 395.5 L1110.8 420.5 L1085.8 445.5 L1060.8 420.5 zM1093.6 397.8 L1118.6 422.8 L1093.6 447.8 L1068.6 422.8 zM1101.3 397.3 L1126.3 422.3 L1101.3 447.3 L1076.3 422.3 zM1109.1 396.2 L1134.1 421.2 L1109.1 446.2 L1084.1 421.2 zM1116.8 386.4 L1141.8 411.4 L1116.8 436.4 L1091.8 411.4 zM1124.6 382.2 L1149.6 407.2 L1124.6 432.2 L1099.6 407.2 zM1132.3 387.0 L1157.3 412.0 L1132.3 437.0 L1107.3 412.0 zM1140.1 389.6 L1165.1 414.6 L1140.1 439.6 L1115.1 414.6 zM1147.8 383.8 L1172.8 408.8 L1147.8 433.8 L1122.8 408.8 zM1155.6 385.8 L1180.6 410.8 L1155.6 435.8 L1130.6 410.8 zM1163.3 380.8 L1188.3 405.8 L1163.3 430.8 L1138.3 405.8 zM1171.1 381.1 L1196.1 406.1 L1171.1 431.1 L1146.1 406.1 zM1178.8 379.7 L1203.8 404.7 L1178.8 429.7 L1153.8 404.7 zM1186.6 377.2 L1211.6 402.2 L1186.6 427.2 L1161.6 402.2 zM1194.3 379.5 L1219.3 404.5 L1194.3 429.5 L1169.3 404.5 zM1202.1 377.3 L1227.1 402.3 L1202.1 427.3 L1177.1 402.3 zM1209.9 379.9 L1234.9 404.9 L1209.9 429.9 L1184.9 404.9 zM1217.6 374.2 L1242.6 399.2 L1217.6 424.2 L1192.6 399.2 zM1225.4 375.6 L1250.4 400.6 L1225.4 425.6 L1200.4 400.6 zM1233.1 369.8 L1258.1 394.8 L1233.1 419.8 L1208.1 394.8 zM1240.9 370.7 L1265.9 395.7 L1240.9 420.7 L1215.9 395.7 zM1248.6 365.6 L1273.6 390.6 L1248.6 415.6 L1223.6 390.6 zM1256.4 362.7 L1281.4 387.7 L1256.4 412.7 L1231.4 387.7 zM1264.1 366.9 L1289.1 391.9 L1264.1 416.9 L1239.1 391.9 zM1271.9 363.2 L1296.9 388.2 L1271.9 413.2 L1246.9 388.2 zM1279.6 361.8 L1304.6 386.8 L1279.6 411.8 L1254.6 386.8 zM1287.4 354.7 L1312.4 379.7 L1287.4 404.7 L1262.4 379.7 zM1295.1 349.9 L1320.1 374.9 L1295.1 399.9 L1270.1 374.9 zM1302.9 350.9 L1327.9 375.9 L1302.9 400.9 L1277.9 375.9 zM1310.6 353.0 L1335.6 378.0 L1310.6 403.0 L1285.6 378.0 zM1318.4 345.6 L1343.4 370.6 L1318.4 395.6 L1293.4 370.6 zM1326.1 353.5 L1351.1 378.5 L1326.1 403.5 L1301.1 378.5 zM1333.9 342.2 L1358.9 367.2 L1333.9 392.2 L1308.9 367.2 zM1341.6 347.6 L1366.6 372.6 L1341.6 397.6 L1316.6 372.6 zM1349.4 352.8 L1374.4 377.8 L1349.4 402.8 L1324.4 377.8 zM1357.1 333.9 L1382.1 358.9 L1357.1 383.9 L1332.1 358.9 zM1364.9 335.8 L1389.9 360.8 L1364.9 385.8 L1339.9 360.8 zM1372.7 342.6 L1397.7 367.6 L1372.7 392.6 L1347.7 367.6 zM1380.4 337.2 L1405.4 362.2 L1380.4 387.2 L1355.4 362.2 zM1388.2 336.9 L1413.2 361.9 L1388.2 386.9 L1363.2 361.9 zM1395.9 334.4 L1420.9 359.4 L1395.9 384.4 L1370.9 359.4 zM1403.7 338.0 L1428.7 363.0 L1403.7 388.0 L1378.7 363.0 zM1411.4 333.9 L1436.4 358.9 L1411.4 383.9 L1386.4 358.9 zM1419.2 328.7 L1444.2 353.7 L1419.2 378.7 L1394.2 353.7 zM1426.9 328.0 L1451.9 353.0 L1426.9 378.0 L1401.9 353.0 zM1434.7 323.4 L1459.7 348.4 L1434.7 373.4 L1409.7 348.4 zM1442.4 325.6 L1467.4 350.6 L1442.4 375.6 L1417.4 350.6 zM1450.2 316.8 L1475.2 341.8 L1450.2 366.8 L1425.2 341.8 zM1457.9 325.2 L1482.9 350.2 L1457.9 375.2 L1432.9 350.2 zM1465.7 320.7 L1490.7 345.7 L1465.7 370.7 L1440.7 345.7 zM1473.4 326.3 L1498.4 351.3 L1473.4 376.3 L1448.4 351.3 zM1481.2 322.8 L1506.2 347.8 L1481.2 372.8 L1456.2 347.8 zM1488.9 313.2 L1513.9 338.2 L1488.9 363.2 L1463.9 338.2 zM1496.7 319.1 L1521.7 344.1 L1496.7 369.1 L1471.7 344.1 zM1504.4 313.1 L1529.4 338.1 L1504.4 363.1 L1479.4 338.1 zM1512.2 313.7 L1537.2 338.7 L1512.2 363.7 L1487.2 338.7 zM1520.0 315.6 L1545.0 340.6 L1520.0 365.6 L1495.0 340.6 zM1527.7 312.1 L1552.7 337.1 L1527.7 362.1 L1502.7 337.1 zM1535.5 311.4 L1560.5 336.4 L1535.5 361.4 L1510.5 336.4 zM1543.2 310.2 L1568.2 335.2 L1543.2 360.2 L1518.2 335.2 zM1551.0 305.0 L1576.0 330.0 L1551.0 355.0 L1526.0 330.0 zM1558.7 304.2 L1583.7 329.2 L1558.7 354.2 L1533.7 329.2 zM1566.5 307.1 L1591.5 332.1 L1566.5 357.1 L1541.5 332.1 zM1574.2 307.1 L1599.2 332.1 L1574.2 357.1 L1549.2 332.1 zM1582.0 302.3 L1607.0 327.3 L1582.0 352.3 L1557.0 327.3 zM1589.7 302.6 L1614.7 327.6 L1589.7 352.6 L1564.7 327.6 zM1597.5 298.0 L1622.5 323.0 L1597.5 348.0 L1572.5 323.0 zM1605.2 291.9 L1630.2 316.9 L1605.2 341.9 L1580.2 316.9 zM1613.0 296.8 L1638.0 321.8 L1613.0 346.8 L1588.0 321.8 zM1620.7 298.8 L1645.7 323.8 L1620.7 348.8 L1595.7 323.8 zM1628.5 298.4 L1653.5 323.4 L1628.5 348.4 L1603.5 323.4 zM1636.2 299.7 L1661.2 324.7 L1636.2 349.7 L1611.2 324.7 zM1644.0 299.0 L1669.0 324.0 L1644.0 349.0 L1619.0 324.0 zM1651.7 298.5 L1676.7 323.5 L1651.7 348.5 L1626.7 323.5 zM1659.5 295.7 L1684.5 320.7 L1659.5 345.7 L1634.5 320.7 zM1667.2 294.9 L1692.2 319.9 L1667.2 344.9 L1642.2 319.9 zM1675.0 290.3 L1700.0 315.3 L1675.0 340.3 L1650.0 315.3 zM1682.8 293.0 L1707.8 318.0 L1682.8 343.0 L1657.8 318.0 zM1690.5 291.4 L1715.5 316.4 L1690.5 341.4 L1665.5 316.4 zM1698.3 293.7 L1723.3 318.7 L1698.3 343.7 L1673.3 318.7 zM1706.0 283.5 L1731.0 308.5 L1706.0 333.5 L1681.0 308.5 zM1713.8 286.1 L1738.8 311.1 L1713.8 336.1 L1688.8 311.1 zM1721.5 280.9 L1746.5 305.9 L1721.5 330.9 L1696.5 305.9 zM1729.3 282.9 L1754.3 307.9 L1729.3 332.9 L1704.3 307.9 zM1737.0 279.5 L1762.0 304.5 L1737.0 329.5 L1712.0 304.5 zM1744.8 283.9 L1769.8 308.9 L1744.8 333.9 L1719.8 308.9 zM1752.5 279.6 L1777.5 304.6 L1752.5 329.6 L1727.5 304.6 zM1760.3 272.0 L1785.3 297.0 L1760.3 322.0 L1735.3 297.0 zM1768.0 283.3 L1793.0 308.3 L1768.0 333.3 L1743.0 308.3 zM1775.8 274.4 L1800.8 299.4 L1775.8 324.4 L1750.8 299.4 zM1783.5 271.4 L1808.5 296.4 L1783.5 321.4 L1758.5 296.4 zM1791.3 274.2 L1816.3 299.2 L1791.3 324.2 L1766.3 299.2 zM1799.0 271.8 L1824.0 296.8 L1799.0 321.8 L1774.0 296.8 zM1806.8 268.8 L1831.8 293.8 L1806.8 318.8 L1781.8 293.8 zM1814.5 273.8 L1839.5 298.8 L1814.5 323.8 L1789.5 298.8 zM1822.3 269.0 L1847.3 294.0 L1822.3 319.0 L1797.3 294.0 zM1830.0 271.9 L1855.0 296.9 L1830.0 321.9 L1805.0 296.9 zM1837.8 270.0 L1862.8 295.0 L1837.8 320.0 L1812.8 295.0 zM1845.6 268.5 L1870.6 293.5 L1845.6 318.5 L1820.6 293.5 zM1853.3 265.7 L1878.3 290.7 L1853.3 315.7 L1828.3 290.7 zM1861.1 263.5 L1886.1 288.5 L1861.1 313.5 L1836.1 288.5 zM1868.8 261.2 L1893.8 286.2 L1868.8 311.2 L1843.8 286.2 zM1876.6 266.1 L1901.6 291.1 L1876.6 316.1 L1851.6 291.1 zM1884.3 253.6 L1909.3 278.6 L1884.3 303.6 L1859.3 278.6 zM1892.1 255.0 L1917.1 280.0 L1892.1 305.0 L1867.1 280.0 zM1899.8 255.1 L1924.8 280.1 L1899.8 305.1 L1874.8 280.1 zM1907.6 257.4 L1932.6 282.4 L1907.6 307.4 L1882.6 282.4 zM1915.3 255.2 L1940.3 280.2 L1915.3 305.2 L1890.3 280.2 zM1923.1 251.8 L1948.1 276.8 L1923.1 301.8 L1898.1 276.8 zM1930.8 250.9 L1955.8 275.9 L1930.8 300.9 L1905.8 275.9 zM1938.6 256.5 L1963.6 281.5 L1938.6 306.5 L1913.6 281.5 zM1946.3 247.3 L1971.3 272.3 L1946.3 297.3 L1921.3 272.3 zM1954.1 238.9 L1979.1 263.9 L1954.1 288.9 L1929.1 263.9 zM1961.8 253.3 L1986.8 278.3 L1961.8 303.3 L1936.8 278.3 zM1969.6 242.8 L1994.6 267.8 L1969.6 292.8 L1944.6 267.8 zM1977.3 243.6 L2002.3 268.6 L1977.3 293.6 L1952.3 268.6 zM1985.1 244.1 L2010.1 269.1 L1985.1 294.1 L1960.1 269.1 zM1992.9 238.1 L2017.9 263.1 L1992.9 288.1 L1967.9 263.1 zM2000.6 245.4 L2025.6 270.4 L2000.6 295.4 L1975.6 270.4 zM2008.4 240.0 L2033.4 265.0 L2008.4 290.0 L1983.4 265.0 zM2016.1 234.7 L2041.1 259.7 L2016.1 284.7 L1991.1 259.7 zM2023.9 239.2 L2048.9 264.2 L2023.9 289.2 L1998.9 264.2 zM2031.6 239.0 L2056.6 264.0 L2031.6 289.0 L2006.6 264.0 zM2039.4 236.3 L2064.4 261.3 L2039.4 286.3 L2014.4 261.3 zM2047.1 237.2 L2072.1 262.2 L2047.1 287.2 L2022.1 262.2 zM2054.9 229.7 L2079.9 254.7 L2054.9 279.7 L2029.9 254.7 zM2062.6 236.9 L2087.6 261.9 L2062.6 286.9 L2037.6 261.9 zM2070.4 230.2 L2095.4 255.2 L2070.4 280.2 L2045.4 255.2 zM2078.1 236.3 L2103.1 261.3 L2078.1 286.3 L2053.1 261.3 zM2085.9 229.2 L2110.9 254.2 L2085.9 279.2 L2060.9 254.2 zM2093.6 230.9 L2118.6 255.9 L2093.6 280.9 L2068.6 255.9 zM2101.4 238.3 L2126.4 263.3 L2101.4 288.3 L2076.4 263.3 zM2109.1 229.1 L2134.1 254.1 L2109.1 279.1 L2084.1 254.1 zM2116.9 231.8 L2141.9 256.8 L2116.9 281.8 L2091.9 256.8 zM2124.6 229.1 L2149.6 254.1 L2124.6 279.1 L2099.6 254.1 zM2132.4 221.8 L2157.4 246.8 L2132.4 271.8 L2107.4 246.8 zM2140.2 229.9 L2165.2 254.9 L2140.2 279.9 L2115.2 254.9 z" fill="#ff00ff"/>
<path d="M279.6 1425.7 L287.3 1426.8 L295.1 1429.7 L302.8 1429.7 L310.6 1431.8 L318.3 1434.4 L326.1 1433.4 L333.8 1429.8 L341.6 1427.8 L349.3 1426.3 L357.1 1422.5 L364.8 1418.4 L372.6 1413.7 L380.3 1402.2 L388.1 1399.4 L395.8 1395.3 L403.6 1388.0 L411.3 1379.6 L419.1 1373.8 L426.8 1369.2 L434.6 1364.0 L442.4 1355.9 L450.1 1352.3 L457.9 1344.2 L465.6 1332.5 L473.4 1327.4 L481.1 1317.7 L488.9 1307.8 L496.6 1300.4 L504.4 1292.7 L512.1 1279.1 L519.9 1272.2 L527.6 1263.9 L535.4 1250.8 L543.1 1239.9 L550.9 1229.7 L558.6 1214.0 L566.4 1199.6 L574.1 1187.5 L581.9 1167.2 L589.7 1150.2 L597.4 1132.8 L605.2 1117.0 L612.9 1095.9 L620.7 1076.5 L628.4 1056.9 L636.2 1038.8 L643.9 1013.6 L651.7 994.9 L659.4 970.0 L667.2 943.8 L674.9 925.0 L682.7 902.3 L690.4 877.5 L698.2 858.9 L705.9 836.4 L713.7 812.5 L721.4 787.8 L729.2 771.4 L736.9 745.9 L744.7 724.1 L752.5 703.0 L760.2 682.4 L768.0 663.6 L775.7 644.2 L783.5 631.4 L791.2 616.4 L799.0 605.3 L806.7 598.8 L814.5 589.0 L822.2 577.6 L830.0 571.3 L837.7 565.2 L845.5 559.0 L853.2 554.2 L861.0 545.9 L868.7 539.2 L876.5 537.5 L884.2 531.4 L892.0 535.1 L899.8 533.8 L907.5 528.2 L915.3 526.6 L923.0 522.3 L930.8 517.9 L938.5 508.7 L946.3 509.9 L954.0 506.2 L961.8 502.0 L969.5 507.9 L977.3 501.6 L985.0 497.7 L992.8 489.2 L1000.5 487.9 L1008.3 480.6 L1016.0 478.1 L1023.8 472.8 L1031.5 472.4 L1039.3 476.7 L1047.0 472.7 L1054.8 469.3 L1062.6 469.5 L1070.3 460.0 L1078.1 459.1 L1085.8 456.0 L1093.6 452.4 L1101.3 449.3 L1109.1 456.1 L1116.8 456.5 L1124.6 452.9 L1132.3 447.8 L1140.1 445.5 L1147.8 444.0 L1155.6 441.9 L1163.3 439.9 L1171.1 435.8 L1178.8 430.8 L1186.6 443.5 L1194.3 435.5 L1202.1 433.8 L1209.9 433.3 L1217.6 427.7 L1225.4 428.9 L1233.1 426.2 L1240.9 422.1 L1248.6 417.2 L1256.4 424.9 L1264.1 422.1 L1271.9 417.6 L1279.6 418.7 L1287.4 410.2 L1295.1 410.7 L1302.9 406.0 L1310.6 402.3 L1318.4 400.6 L1326.1 397.9 L1333.9 405.2 L1341.6 400.3 L1349.4 396.2 L1357.1 393.5 L1364.9 393.8 L1372.7 390.7 L1380.4 388.3 L1388.2 382.9 L1395.9 385.1 L1403.7 387.0 L1411.4 387.6 L1419.2 385.2 L1426.9 380.0 L1434.7 375.6 L1442.4 373.8 L1450.2 369.3 L1457.9 368.0 L1465.7 362.7 L1473.4 370.6 L1481.2 370.1 L1488.9 363.9 L1496.7 363.2 L1504.4 360.0 L1512.2 358.7 L1520.0 354.2 L1527.7 348.8 L1535.5 349.7 L1543.2 342.8 L1551.0 351.5 L1558.7 348.8 L1566.5 351.1 L1574.2 344.3 L1582.0 340.3 L1589.7 340.6 L1597.5 336.5 L1605.2 339.0 L1613.0 330.7 L1620.7 342.1 L1628.5 336.8 L1636.2 340.0 L1644.0 332.7 L1651.7 332.3 L1659.5 328.1 L1667.2 329.2 L1675.0 326.4 L1682.8 318.5 L1690.5 322.3 L1698.3 330.8 L1706.0 327.7 L1713.8 326.8 L1721.5 320.0 L1729.3 316.6 L1737.0 319.0 L1744.8 318.6 L1752.5 310.5 L1760.3 308.2 L1768.0 317.5 L1775.8 314.4 L1783.5 316.0 L1791.3 312.2 L1799.0 312.1 L1806.8 309.8 L1814.5 302.6 L1822.3 303.5 L1830.0 295.2 L1837.8 308.2 L1845.6 307.2 L1853.3 301.9 L1861.1 297.5 L1868.8 297.7 L1876.6 298.6 L1884.3 293.0 L1892.1 288.5 L1899.8 289.7 L1907.6 287.7 L1915.3 292.8 L1923.1 292.0 L1930.8 292.0 L1938.6 288.1 L1946.3 286.3 L1954.1 281.8 L1961.8 279.7 L1969.6 275.2 L1977.3 273.6 L1985.1 286.8 L1992.9 280.5 L2000.6 277.2 L2008.4 275.8 L2016.1 272.3 L2023.9 273.2 L2031.6 271.7 L2039.4 265.7 L2047.1 267.4 L2054.9 267.4 L2062.6 270.0 L2070.4 271.2 L2078.1 268.2 L2085.9 268.2 L2093.6 265.9 L2101.4 263.4 L2109.1 259.8 L2116.9 256.2 L2124.6 259.4 L2132.4 262.4 L2140.2 264.1" fill="none" stroke="#808000" stroke-width="2"/>
<path d="M251.8 1425.7 L293.4 1401.7 L293.4 1449.7 zM259.6 1426.8 L301.2 1402.8 L301.2 1450.8 zM267.3 1429.7 L308.9 1405.7 L308.9 1453.7 zM275.1 1429.7 L316.7 1405.7 L316.7 1453.7 zM282.8 1431.8 L324.4 1407.8 L324.4 1455.8 zM290.6 1434.4 L332.2 1410.4 L332.2 1458.4 zM298.4 1433.4 L339.9 1409.4 L339.9 1457.4 zM306.1 1429.8 L347.7 1405.8 L347.7 1453.8 zM313.9 1427.8 L355.4 1403.8 L355.4 1451.8 zM321.6 1426.3 L363.2 1402.3 L363.2 1450.3 zM329.4 1422.5 L370.9 1398.5 L370.9 1446.5 zM337.1 1418.4 L378.7 1394.4 L378.7 1442.4 zM344.9 1413.7 L386.4 1389.7 L386.4 1437.7 zM352.6 1402.2 L394.2 1378.2 L394.2 1426.2 zM360.4 1399.4 L401.9 1375.4 L401.9 1423.4 zM368.1 1395.3 L409.7 1371.3 L409.7 1419.3 zM375.9 1388.0 L417.4 1364.0 L417.4 1412.0 zM383.6 1379.6 L425.2 1355.6 L425.2 1403.6 zM391.4 1373.8 L433.0 1349.8 L433.0 1397.8 zM399.1 1369.2 L440.7 1345.2 L440.7 1393.2 zM406.9 1364.0 L448.5 1340.0 L448.5 1388.0 zM414.6 1355.9 L456.2 1331.9 L456.2 1379.9 zM422.4 1352.3 L464.0 1328.3 L464.0 1376.3 zM430.1 1344.2 L471.7 1320.2 L471.7 1368.2 zM437.9 1332.5 L479.5 1308.5 L479.5 1356.5 zM445.6 1327.4 L487.2 1303.4 L487.2 1351.4 zM453.4 1317.7 L495.0 1293.7 L495.0 1341.7 zM461.2 1307.8 L502.7 1283.8 L502.7 1331.8 zM468.9 1300.4 L510.5 1276.4 L510.5 1324.4 zM476.7 1292.7 L518.2 1268.7 L518.2 1316.7 zM484.4 1279.1 L526.0 1255.1 L526.0 1303.1 zM492.2 1272.2 L533.7 1248.2 L533.7 1296.2 zM499.9 1263.9 L541.5 1239.9 L541.5 1287.9 zM507.7 1250.8 L549.2 1226.8 L549.2 1274.8 zM515.4 1239.9 L557.0 1215.9 L557.0 1263.9 zM523.2 1229.7 L564.7 1205.7 L564.7 1253.7 zM530.9 1214.0 L572.5 1190.0 L572.5 1238.0 zM538.7 1199.6 L580.2 1175.6 L580.2 1223.6 zM546.4 1187.5 L588.0 1163.5 L588.0 1211.5 zM554.2 1167.2 L595.8 1143.2 L595.8 1191.2 zM561.9 1150.2 L603.5 1126.2 L603.5 1174.2 zM569.7 1132.8 L611.3 1108.8 L611.3 1156.8 zM577.4 1117.0 L619.0 1093.0 L619.0 1141.0 zM585.2 1095.9 L626.8 1071.9 L626.8 1119.9 zM592.9 1076.5 L634.5 1052.5 L634.5 1100.5 zM600.7 1056.9 L642.3 1032.9 L642.3 1080.9 zM608.5 1038.8 L650.0 1014.8 L650.0 1062.8 zM616.2 1013.6 L657.8 989.6 L657.8 1037.6 zM624.0 994.9 L665.5 970.9 L665.5 1018.9 zM631.7 970.0 L673.3 946.0 L673.3 994.0 zM639.5 943.8 L681.0 919.8 L681.0 967.8 zM647.2 925.0 L688.8 901.0 L688.8 949.0 zM655.0 902.3 L696.5 878.3 L696.5 926.3 zM662.7 877.5 L704.3 853.5 L704.3 901.5 zM670.5 858.9 L712.0 834.9 L712.0 882.9 zM678.2 836.4 L719.8 812.4 L719.8 860.4 zM686.0 812.5 L727.5 788.5 L727.5 836.5 zM693.7 787.8 L735.3 763.8 L735.3 811.8 zM701.5 771.4 L743.1 747.4 L743.1 795.4 zM709.2 745.9 L750.8 721.9 L750.8 769.9 zM717.0 724.1 L758.6 700.1 L758.6 748.1 zM724.7 703.0 L766.3 679.0 L766.3 727.0 zM732.5 682.4 L774.1 658.4 L774.1 706.4 zM740.2 663.6 L781.8 639.6 L781.8 687.6 zM748.0 644.2 L789.6 620.2 L789.6 668.2 zM755.7 631.4 L797.3 607.4 L797.3 655.4 zM763.5 616.4 L805.1 592.4 L805.1 640.4 zM771.3 605.3 L812.8 581.3 L812.8 629.3 zM779.0 598.8 L820.6 574.8 L820.6 622.8 zM786.8 589.0 L828.3 565.0 L828.3 613.0 zM794.5 577.6 L836.1 553.6 L836.1 601.6 zM802.3 571.3 L843.8 547.3 L843.8 595.3 zM810.0 565.2 L851.6 541.2 L851.6 589.2 zM817.8 559.0 L859.3 535.0 L859.3 583.0 zM825.5 554.2 L867.1 530.2 L867.1 578.2 zM833.3 545.9 L874.8 521.9 L874.8 569.9 zM841.0 539.2 L882.6 515.2 L882.6 563.2 zM848.8 537.5 L890.3 513.5 L890.3 561.5 zM856.5 531.4 L898.1 507.4 L898.1 555.4 zM864.3 535.1 L905.9 511.1 L905.9 559.1 zM872.0 533.8 L913.6 509.8 L913.6 557.8 zM879.8 528.2 L921.4 504.2 L921.4 552.2 zM887.5 526.6 L929.1 502.6 L929.1 550.6 zM895.3 522.3 L936.9 498.3 L936.9 546.3 zM903.0 517.9 L944.6 493.9 L944.6 541.9 zM910.8 508.7 L952.4 484.7 L952.4 532.7 zM918.6 509.9 L960.1 485.9 L960.1 533.9 zM926.3 506.2 L967.9 482.2 L967.9 530.2 zM934.1 502.0 L975.6 478.0 L975.6 526.0 zM941.8 507.9 L983.4 483.9 L983.4 531.9 zM949.6 501.6 L991.1 477.6 L991.1 525.6 zM957.3 497.7 L998.9 473.7 L998.9 521.7 zM965.1 489.2 L1006.6 465.2 L1006.6 513.2 zM972.8 487.9 L1014.4 463.9 L1014.4 511.9 zM980.6 480.6 L1022.1 456.6 L1022.1 504.6 zM988.3 478.1 L1029.9 454.1 L1029.9 502.1 zM996.1 472.8 L1037.6 448.8 L1037.6 496.8 zM1003.8 472.4 L1045.4 448.4 L1045.4 496.4 zM1011.6 476.7 L1053.2 452.7 L1053.2 500.7 zM1019.3 472.7 L1060.9 448.7 L1060.9 496.7 zM1027.1 469.3 L1068.7 445.3 L1068.7 493.3 zM1034.8 469.5 L1076.4 445.5 L1076.4 493.5 zM1042.6 460.0 L1084.2 436.0 L1084.2 484.0 zM1050.3 459.1 L1091.9 435.1 L1091.9 483.1 zM1058.1 456.0 L1099.7 432.0 L1099.7 480.0 zM1065.8 452.4 L1107.4 428.4 L1107.4 476.4 zM1073.6 449.3 L1115.2 425.3 L1115.2 473.3 zM1081.4 456.1 L1122.9 432.1 L1122.9 480.1 zM1089.1 456.5 L1130.7 432.5 L1130.7 480.5 zM1096.9 452.9 L1138.4 428.9 L1138.4 476.9 zM1104.6 447.8 L1146.2 423.8 L1146.2 471.8 zM1112.4 445.5 L1153.9 421.5 L1153.9 469.5 zM1120.1 444.0 L1161.7 420.0 L1161.7 468.0 zM1127.9 441.9 L1169.4 417.9 L1169.4 465.9 zM1135.6 439.9 L1177.2 415.9 L1177.2 463.9 zM1143.4 435.8 L1184.9 411.8 L1184.9 459.8 zM1151.1 430.8 L1192.7 406.8 L1192.7 454.8 zM1158.9 443.5 L1200.4 419.5 L1200.4 467.5 zM1166.6 435.5 L1208.2 411.5 L1208.2 459.5 zM1174.4 433.8 L1216.0 409.8 L1216.0 457.8 zM1182.1 433.3 L1223.7 409.3 L1223.7 457.3 zM1189.9 427.7 L1231.5 403.7 L1231.5 451.7 zM1197.6 428.9 L1239.2 404.9 L1239.2 452.9 zM1205.4 426.2 L1247.0 402.2 L1247.0 450.2 zM1213.1 422.1 L1254.7 398.1 L1254.7 446.1 zM1220.9 417.2 L1262.5 393.2 L1262.5 441.2 zM1228.7 424.9 L1270.2 400.9 L1270.2 448.9 zM1236.4 422.1 L1278.0 398.1 L1278.0 446.1 zM1244.2 417.6 L1285.7 393.6 L1285.7 441.6 zM1251.9 418.7 L1293.5 394.7 L1293.5 442.7 zM1259.7 410.2 L1301.2 386.2 L1301.2 434.2 zM1267.4 410.7 L1309.0 386.7 L1309.0 434.7 zM1275.2 406.0 L1316.7 382.0 L1316.7 430.0 zM1282.9 402.3 L1324.5 378.3 L1324.5 426.3 zM1290.7 400.6 L1332.2 376.6 L1332.2 424.6 zM1298.4 397.9 L1340.0 373.9 L1340.0 421.9 zM1306.2 405.2 L1347.7 381.2 L1347.7 429.2 zM1313.9 400.3 L1355.5 376.3 L1355.5 424.3 zM1321.7 396.2 L1363.3 372.2 L1363.3 420.2 zM1329.4 393.5 L1371.0 369.5 L1371.0 417.5 zM1337.2 393.8 L1378.8 369.8 L1378.8 417.8 zM1344.9 390.7 L1386.5 366.7 L1386.5 414.7 zM1352.7 388.3 L1394.3 364.3 L1394.3 412.3 zM1360.4 382.9 L1402.0 358.9 L1402.0 406.9 zM1368.2 385.1 L1409.8 361.1 L1409.8 409.1 zM1375.9 387.0 L1417.5 363.0 L1417.5 411.0 zM1383.7 387.6 L1425.3 363.6 L1425.3 411.6 zM1391.5 385.2 L1433.0 361.2 L1433.0 409.2 zM1399.2 380.0 L1440.8 356.0 L1440.8 404.0 zM1407.0 375.6 L1448.5 351.6 L1448.5 399.6 zM1414.7 373.8 L1456.3 349.8 L1456.3 397.8 zM1422.5 369.3 L1464.0 345.3 L1464.0 393.3 zM1430.2 368.0 L1471.8 344.0 L1471.8 392.0 zM1438.0 362.7 L1479.5 338.7 L1479.5 386.7 zM1445.7 370.6 L1487.3 346.6 L1487.3 394.6 zM1453.5 370.1 L1495.0 346.1 L1495.0 394.1 zM1461.2 363.9 L1502.8 339.9 L1502.8 387.9 zM1469.0 363.2 L1510.5 339.2 L1510.5 387.2 zM1476.7 360.0 L1518.3 336.0 L1518.3 384.0 zM1484.5 358.7 L1526.1 334.7 L1526.1 382.7 zM1492.2 354.2 L1533.8 330.2 L1533.8 378.2 zM1500.0 348.8 L1541.6 324.8 L1541.6 372.8 zM1507.7 349.7 L1549.3 325.7 L1549.3 373.7 zM1515.5 342.8 L1557.1 318.8 L1557.1 366.8 zM1523.2 351.5 L1564.8 327.5 L1564.8 375.5 zM1531.0 348.8 L1572.6 324.8 L1572.6 372.8 zM1538.8 351.1 L1580.3 327.1 L1580.3 375.1 zM1546.5 344.3 L1588.1 320.3 L1588.1 368.3 zM1554.3 340.3 L1595.8 316.3 L1595.8 364.3 zM1562.0 340.6 L1603.6 316.6 L1603.6 364.6 zM1569.8 336.5 L1611.3 312.5 L1611.3 360.5 zM1577.5 339.0 L1619.1 315.0 L1619.1 363.0 zM1585.3 330.7 L1626.8 306.7 L1626.8 354.7 zM1593.0 342.1 L1634.6 318.1 L1634.6 366.1 zM1600.8 336.8 L1642.3 312.8 L1642.3 360.8 zM1608.5 340.0 L1650.1 316.0 L1650.1 364.0 zM1616.3 332.7 L1657.8 308.7 L1657.8 356.7 zM1624.0 332.3 L1665.6 308.3 L1665.6 356.3 zM1631.8 328.1 L1673.4 304.1 L1673.4 352.1 zM1639.5 329.2 L1681.1 305.2 L1681.1 353.2 zM1647.3 326.4 L1688.9 302.4 L1688.9 350.4 zM1655.0 318.5 L1696.6 294.5 L1696.6 342.5 zM1662.8 322.3 L1704.4 298.3 L1704.4 346.3 zM1670.5 330.8 L1712.1 306.8 L1712.1 354.8 zM1678.3 327.7 L1719.9 303.7 L1719.9 351.7 zM1686.0 326.8 L1727.6 302.8 L1727.6 350.8 zM1693.8 320.0 L1735.4 296.0 L1735.4 344.0 zM1701.6 316.6 L1743.1 292.6 L1743.1 340.6 zM1709.3 319.0 L1750.9 295.0 L1750.9 343.0 zM1717.1 318.6 L1758.6 294.6 L1758.6 342.6 zM1724.8 310.5 L1766.4 286.5 L1766.4 334.5 zM1732.6 308.2 L1774.1 284.2 L1774.1 332.2 zM1740.3 317.5 L1781.9 293.5 L1781.9 341.5 zM1748.1 314.4 L1789.6 290.4 L1789.6 338.4 zM1755.8 316.0 L1797.4 292.0 L1797.4 340.0 zM1763.6 312.2 L1805.1 288.2 L1805.1 336.2 zM1771.3 312.1 L1812.9 288.1 L1812.9 336.1 zM1779.1 309.8 L1820.6 285.8 L1820.6 333.8 zM1786.8 302.6 L1828.4 278.6 L1828.4 326.6 zM1794.6 303.5 L1836.2 279.5 L1836.2 327.5 zM1802.3 295.2 L1843.9 271.2 L1843.9 319.2 zM1810.1 308.2 L1851.7 284.2 L1851.7 332.2 zM1817.8 307.2 L1859.4 283.2 L1859.4 331.2 zM1825.6 301.9 L1867.2 277.9 L1867.2 325.9 zM1833.3 297.5 L1874.9 273.5 L1874.9 321.5 zM1841.1 297.7 L1882.7 273.7 L1882.7 321.7 zM1848.9 298.6 L1890.4 274.6 L1890.4 322.6 zM1856.6 293.0 L1898.2 269.0 L1898.2 317.0 zM1864.4 288.5 L1905.9 264.5 L1905.9 312.5 zM1872.1 289.7 L1913.7 265.7 L1913.7 313.7 zM1879.9 287.7 L1921.4 263.7 L1921.4 311.7 zM1887.6 292.8 L1929.2 268.8 L1929.2 316.8 zM1895.4 292.0 L1936.9 268.0 L1936.9 316.0 zM1903.1 292.0 L1944.7 268.0 L1944.7 316.0 zM1910.9 288.1 L1952.4 264.1 L1952.4 312.1 zM1918.6 286.3 L1960.2 262.3 L1960.2 310.3 zM1926.4 281.8 L1967.9 257.8 L1967.9 305.8 zM1934.1 279.7 L1975.7 255.7 L1975.7 303.7 zM1941.9 275.2 L1983.5 251.2 L1983.5 299.2 zM1949.6 273.6 L1991.2 249.6 L1991.2 297.6 zM1957.4 286.8 L1999.0 262.8 L1999.0 310.8 zM1965.1 280.5 L2006.7 256.5 L2006.7 304.5 zM1972.9 277.2 L2014.5 253.2 L2014.5 301.2 zM1980.6 275.8 L2022.2 251.8 L2022.2 299.8 zM1988.4 272.3 L2030.0 248.3 L2030.0 296.3 zM1996.1 273.2 L2037.7 249.2 L2037.7 297.2 zM2003.9 271.7 L2045.5 247.7 L2045.5 295.7 zM2011.7 265.7 L2053.2 241.7 L2053.2 289.7 zM2019.4 267.4 L2061.0 243.4 L2061.0 291.4 zM2027.2 267.4 L2068.7 243.4 L2068.7 291.4 zM2034.9 270.0 L2076.5 246.0 L2076.5 294.0 zM2042.7 271.2 L2084.2 247.2 L2084.2 295.2 zM2050.4 268.2 L2092.0 244.2 L2092.0 292.2 zM2058.2 268.2 L2099.7 244.2 L2099.7 292.2 zM2065.9 265.9 L2107.5 241.9 L2107.5 289.9 zM2073.7 263.4 L2115.2 239.4 L2115.2 287.4 zM2081.4 259.8 L2123.0 235.8 L2123.0 283.8 zM2089.2 256.2 L2130.7 232.2 L2130.7 280.2 zM2096.9 259.4 L2138.5 235.4 L2138.5 283.4 zM2104.7 262.4 L2146.3 238.4 L2146.3 286.4 zM2112.4 264.1 L2154.0 240.1 L2154.0 288.1 z" fill="#808000"/>
</g>
<path d="M258.2 58.0 H2141.0 V1543.8 M2141.0 1414.00 H2103.0 M2141.0 1290.78 H2119.5 M2141.0 1167.55 H2103.0 M2141.0 1044.33 H2119.5 M2141.0 921.10 H2103.0 M2141.0 797.88 H2119.5 M2141.0 674.65 H2103.0 M2141.0 551.43 H2119.5 M2141.0 428.20 H2103.0 M2141.0 304.98 H2119.5 M2141.0 181.75 H2103.0" fill="none" stroke="#000" stroke-width="11.5" stroke-linejoin="miter"/>
<path d="M279.55 58.0 V96.0 M434.60 58.0 V79.5 M589.65 58.0 V96.0 M744.70 58.0 V79.5 M899.75 58.0 V96.0 M1054.80 58.0 V79.5 M1209.85 58.0 V96.0 M1364.90 58.0 V79.5 M1519.95 58.0 V96.0 M1675.00 58.0 V79.5 M1830.05 58.0 V96.0 M1985.10 58.0 V79.5" fill="none" stroke="#000" stroke-width="12.5"/>
<g font-size="90"><text x="279.6" y="1641.5" text-anchor="middle">0</text>
<text x="589.7" y="1641.5" text-anchor="middle">20</text>
<text x="899.8" y="1641.5" text-anchor="middle">40</text>
<text x="1209.9" y="1641.5" text-anchor="middle">60</text>
<text x="1520.0" y="1641.5" text-anchor="middle">80</text>
<text x="1830.0" y="1641.5" text-anchor="middle">100</text>
<text x="2140.2" y="1641.5" text-anchor="middle">120</text>
<text x="229.3" y="1438.6" text-anchor="end">0</text>
<text x="229.3" y="1192.1" text-anchor="end">1</text>
<text x="229.3" y="945.7" text-anchor="end">2</text>
<text x="229.3" y="699.3" text-anchor="end">3</text>
<text x="229.3" y="452.8" text-anchor="end">4</text>
<text x="229.3" y="206.3" text-anchor="end">5</text></g>
<text x="1203" y="1801" font-size="100.6" text-anchor="middle">Time (min)</text>
<text transform="translate(120.6 1449) rotate(-90)" font-size="100.3" letter-spacing="-0.6">Hydrogen desorbed (wt.%)</text>
<path d="M995 618.3 H1168.5" stroke="#000000" stroke-width="2.6" stroke-opacity="0.4" fill="none"/>
<path d="M1064.3 600.3 h36 v36 h-36 z" fill="#000000"/>
<text x="1188.6" y="644.0" font-size="77.5">Commercial LiAlH<tspan class="s" dy="31">4</tspan></text>
<path d="M995 738.3 H1168.5" stroke="#0000ff" stroke-width="2.6" stroke-opacity="0.4" fill="none"/>
<path d="M1063.0 738.3 a19.3 19.3 0 1 0 38.6 0 a19.3 19.3 0 1 0 -38.6 0z" fill="#0000ff"/>
<text x="1188.6" y="764.0" font-size="77.5">As-milled LiAlH<tspan class="s" dy="31">4</tspan></text>
<path d="M995 858.3 H1168.5" stroke="#008080" stroke-width="2.6" stroke-opacity="0.4" fill="none"/>
<path d="M1082.3 830.6 L1058.3 872.2 L1106.3 872.2 z" fill="#008080"/>
<text x="1188.6" y="884.0" font-size="77.5">LiAlH<tspan class="s" dy="31">4</tspan><tspan dy="-31"> + 5 wt.% CoTiO</tspan><tspan class="s" dy="31">3</tspan></text>
<path d="M995 978.3 H1168.5" stroke="#ff0000" stroke-width="2.6" stroke-opacity="0.4" fill="none"/>
<path d="M1082.3 1006.0 L1058.3 964.4 L1106.3 964.4 z" fill="#ff0000"/>
<text x="1188.6" y="1004.0" font-size="77.5">LiAlH<tspan class="s" dy="31">4</tspan><tspan dy="-31"> + 10 wt.% CoTiO</tspan><tspan class="s" dy="31">3</tspan></text>
<path d="M995 1098.3 H1168.5" stroke="#ff00ff" stroke-width="2.6" stroke-opacity="0.4" fill="none"/>
<path d="M1082.3 1073.3 L1107.3 1098.3 L1082.3 1123.3 L1057.3 1098.3 z" fill="#ff00ff"/>
<text x="1188.6" y="1124.0" font-size="77.5">LiAlH<tspan class="s" dy="31">4</tspan><tspan dy="-31"> + 15 wt.% CoTiO</tspan><tspan class="s" dy="31">3</tspan></text>
<path d="M995 1218.3 H1168.5" stroke="#808000" stroke-width="2.6" stroke-opacity="0.4" fill="none"/>
<path d="M1054.6 1218.3 L1096.2 1194.3 L1096.2 1242.3 z" fill="#808000"/>
<text x="1188.6" y="1244.0" font-size="77.5">LiAlH<tspan class="s" dy="31">4</tspan><tspan dy="-31"> + 20 wt.% CoTiO</tspan><tspan class="s" dy="31">3</tspan></text>
</svg>
</body>
</html>
